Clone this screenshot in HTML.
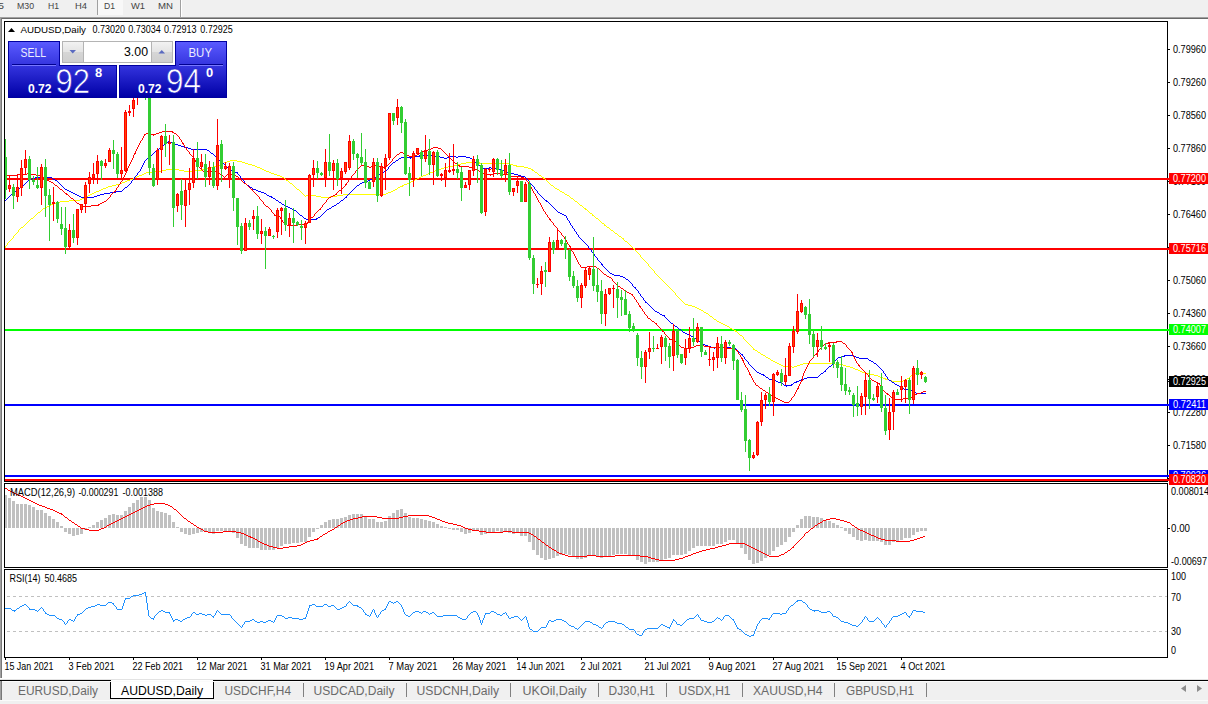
<!DOCTYPE html><html><head><meta charset="utf-8"><title>AUDUSD,Daily</title><style>
html,body{margin:0;padding:0;background:#fff;}body{width:1208px;height:704px;overflow:hidden;position:relative;font-family:"Liberation Sans",sans-serif;}
svg{position:absolute;left:0;top:0;display:block}text{font-family:"Liberation Sans",sans-serif;}
.ax{font-size:10.4px;fill:#000}.lb{font-size:10.4px;fill:#fff}.tb{font-size:12.5px;fill:#6a6a6a}.tf{font-size:9.7px;fill:#444}
</style></head><body>
<svg width="1208" height="704" viewBox="0 0 1208 704">
<defs><linearGradient id="bg" gradientUnits="userSpaceOnUse" x1="0" y1="42" x2="0" y2="97"><stop offset="0" stop-color="#5a5aff"/><stop offset="0.45" stop-color="#3232dc"/><stop offset="1" stop-color="#0000a6"/></linearGradient>
<linearGradient id="sp" x1="0" y1="0" x2="0" y2="1"><stop offset="0" stop-color="#f2f2f2"/><stop offset="0.5" stop-color="#e4e4e4"/><stop offset="0.5" stop-color="#d6d6d6"/><stop offset="1" stop-color="#cfcfcf"/></linearGradient>
<clipPath id="cm"><rect x="5" y="22" width="1162" height="459"/></clipPath></defs>
<g shape-rendering="crispEdges">
<rect x="0" y="0" width="1208" height="17" fill="#f0f0f0"/>
<rect x="98" y="0" width="25" height="15" fill="#f8f8f8"/>
<rect x="97" y="0" width="1" height="15" fill="#a0a0a0"/>
<rect x="180" y="0" width="1" height="17" fill="#a0a0a0"/><rect x="181" y="0" width="1" height="17" fill="#fff"/>
<rect x="0" y="17" width="1208" height="1" fill="#a0a0a0"/><rect x="0" y="18" width="1208" height="1" fill="#696969"/>
<rect x="0" y="17" width="1" height="661" fill="#a0a0a0"/><rect x="1" y="18" width="1" height="660" fill="#787878"/>
<rect x="4" y="21" width="1164" height="1" fill="#000"/>
<rect x="4" y="21" width="1" height="637" fill="#000"/>
<rect x="1167" y="21" width="1" height="637" fill="#000"/>
<rect x="4" y="481" width="1164" height="1" fill="#000"/><rect x="4" y="482" width="1164" height="1" fill="#fff"/><rect x="4" y="483" width="1164" height="1" fill="#000"/>
<rect x="4" y="567" width="1164" height="1" fill="#000"/><rect x="4" y="568" width="1164" height="1" fill="#fff"/><rect x="4" y="569" width="1164" height="1" fill="#000"/>
<rect x="4" y="657" width="1164" height="1" fill="#000"/>
</g>
<g shape-rendering="crispEdges">
<rect x="5" y="178" width="1164" height="2" fill="#ff0000"/>
<rect x="5" y="248" width="1164" height="2" fill="#ff0000"/>
<rect x="5" y="329" width="1164" height="2" fill="#00ff00"/>
<rect x="5" y="404" width="1164" height="2" fill="#0000ff"/>
<rect x="5" y="475" width="1164" height="2" fill="#0000ff"/>
<rect x="5" y="479" width="1164" height="2" fill="#ff0000"/>
</g>
<g shape-rendering="crispEdges" clip-path="url(#cm)" stroke-linejoin="round">
<path d="M230 160h7v1h-7zM227 161h3v1h-3zM237 161h5v1h-5zM224 162h3v1h-3zM242 162h3v1h-3zM466 162h14v1h-14zM222 163h2v1h-2zM245 163h3v1h-3zM461 163h5v1h-5zM479 163h31v1h-31zM220 164h2v1h-2zM248 164h4v1h-4zM457 164h4v1h-4zM510 164h3v1h-3zM217 165h3v1h-3zM252 165h3v1h-3zM453 165h4v1h-4zM513 165h4v1h-4zM214 166h3v1h-3zM255 166h2v1h-2zM448 166h6v1h-6zM516 166h8v1h-8zM210 167h4v1h-4zM257 167h3v1h-3zM444 167h4v1h-4zM524 167h4v1h-4zM206 168h4v1h-4zM260 168h2v1h-2zM441 168h3v1h-3zM528 168h3v1h-3zM166 169h13v1h-13zM202 169h4v1h-4zM262 169h2v1h-2zM438 169h3v1h-3zM531 169h2v1h-2zM162 170h4v1h-4zM179 170h5v1h-5zM194 170h8v1h-8zM264 170h2v1h-2zM435 170h3v1h-3zM532 170h2v1h-2zM155 171h7v1h-7zM184 171h10v1h-10zM266 171h3v1h-3zM433 171h2v1h-2zM534 171h1v1h-1zM146 172h9v1h-9zM269 172h2v1h-2zM430 172h3v1h-3zM535 172h2v1h-2zM144 173h2v1h-2zM271 173h3v1h-3zM428 173h2v1h-2zM537 173h1v1h-1zM142 174h2v1h-2zM274 174h3v1h-3zM426 174h2v1h-2zM538 174h1v1h-1zM139 175h3v1h-3zM277 175h3v1h-3zM423 175h3v1h-3zM539 175h2v1h-2zM137 176h2v1h-2zM280 176h2v1h-2zM421 176h2v1h-2zM541 176h1v1h-1zM135 177h2v1h-2zM282 177h2v1h-2zM419 177h2v1h-2zM542 177h2v1h-2zM133 178h2v1h-2zM284 178h1v1h-1zM417 178h2v1h-2zM543 178h2v1h-2zM130 179h3v1h-3zM285 179h1v1h-1zM415 179h2v1h-2zM545 179h1v1h-1zM127 180h3v1h-3zM286 180h2v1h-2zM413 180h2v1h-2zM546 180h1v1h-1zM125 181h2v1h-2zM288 181h1v1h-1zM411 181h2v1h-2zM547 181h1v1h-1zM122 182h3v1h-3zM289 182h1v1h-1zM409 182h2v1h-2zM548 182h1v1h-1zM120 183h2v1h-2zM290 183h2v1h-2zM407 183h2v1h-2zM549 183h1v1h-1zM116 184h4v1h-4zM292 184h1v1h-1zM404 184h3v1h-3zM550 184h1v1h-1zM112 185h4v1h-4zM293 185h1v1h-1zM402 185h2v1h-2zM551 185h2v1h-2zM108 186h4v1h-4zM294 186h1v1h-1zM400 186h3v1h-3zM553 186h1v1h-1zM106 187h2v1h-2zM295 187h1v1h-1zM398 187h2v1h-2zM554 187h1v1h-1zM103 188h3v1h-3zM296 188h1v1h-1zM397 188h1v1h-1zM555 188h2v1h-2zM101 189h2v1h-2zM297 189h2v1h-2zM395 189h2v1h-2zM557 189h2v1h-2zM99 190h2v1h-2zM299 190h1v1h-1zM393 190h2v1h-2zM559 190h1v1h-1zM96 191h3v1h-3zM300 191h1v1h-1zM391 191h2v1h-2zM560 191h2v1h-2zM94 192h2v1h-2zM301 192h1v1h-1zM388 192h3v1h-3zM562 192h2v1h-2zM92 193h2v1h-2zM302 193h1v1h-1zM386 193h2v1h-2zM564 193h1v1h-1zM90 194h2v1h-2zM303 194h1v1h-1zM343 194h43v1h-43zM565 194h2v1h-2zM88 195h2v1h-2zM304 195h1v1h-1zM306 195h10v1h-10zM337 195h6v1h-6zM567 195h2v1h-2zM86 196h2v1h-2zM305 196h1v1h-1zM316 196h5v1h-5zM330 196h7v1h-7zM569 196h1v1h-1zM84 197h2v1h-2zM321 197h9v1h-9zM570 197h1v1h-1zM82 198h2v1h-2zM571 198h2v1h-2zM80 199h2v1h-2zM573 199h1v1h-1zM69 200h11v1h-11zM574 200h1v1h-1zM60 201h9v1h-9zM575 201h2v1h-2zM56 202h4v1h-4zM577 202h1v1h-1zM54 203h2v1h-2zM578 203h1v1h-1zM51 204h3v1h-3zM579 204h1v1h-1zM49 205h2v1h-2zM580 205h2v1h-2zM47 206h2v1h-2zM582 206h1v1h-1zM45 207h2v1h-2zM583 207h1v1h-1zM43 208h2v1h-2zM584 208h2v1h-2zM42 209h1v1h-1zM585 209h2v1h-2zM41 210h1v1h-1zM587 210h1v1h-1zM40 211h1v1h-1zM588 211h1v1h-1zM38 212h2v1h-2zM589 212h1v1h-1zM37 213h1v1h-1zM590 213h2v1h-2zM36 214h1v1h-1zM592 214h1v1h-1zM35 215h1v1h-1zM592 215h2v1h-2zM34 216h1v1h-1zM594 216h1v1h-1zM33 217h1v1h-1zM595 217h1v1h-1zM31 218h2v1h-2zM596 218h2v1h-2zM30 219h1v1h-1zM598 219h1v1h-1zM29 220h1v1h-1zM599 220h1v1h-1zM28 221h1v1h-1zM600 221h1v1h-1zM27 222h1v1h-1zM601 222h1v1h-1zM26 223h1v1h-1zM602 223h2v1h-2zM25 224h1v1h-1zM604 224h1v1h-1zM24 225h1v1h-1zM604 225h2v1h-2zM23 226h1v1h-1zM606 226h1v1h-1zM21 227h2v1h-2zM607 227h2v1h-2zM20 228h1v1h-1zM609 228h1v1h-1zM19 229h1v1h-1zM610 229h1v1h-1zM18 230h1v1h-1zM611 230h2v1h-2zM18 231h1v1h-1zM613 231h1v1h-1zM17 232h1v1h-1zM614 232h1v1h-1zM16 233h1v1h-1zM615 233h2v1h-2zM15 234h1v1h-1zM617 234h1v1h-1zM14 235h1v1h-1zM618 235h1v1h-1zM13 236h1v1h-1zM619 236h2v1h-2zM13 237h1v1h-1zM621 237h1v1h-1zM12 238h1v1h-1zM622 238h2v1h-2zM11 239h1v1h-1zM623 239h1v1h-1zM10 240h1v1h-1zM624 240h1v1h-1zM9 241h1v1h-1zM625 241h2v1h-2zM8 242h1v1h-1zM627 242h1v1h-1zM7 243h1v1h-1zM628 243h1v1h-1zM7 244h1v1h-1zM629 244h1v1h-1zM6 245h1v1h-1zM630 245h1v1h-1zM5 246h1v1h-1zM631 246h1v1h-1zM5 247h1v1h-1zM632 247h1v1h-1zM633 248h2v1h-2zM634 249h1v1h-1zM635 250h1v1h-1zM636 251h1v1h-1zM637 252h1v1h-1zM638 253h1v1h-1zM639 254h1v1h-1zM640 255h1v1h-1zM640 256h1v1h-1zM641 257h1v1h-1zM642 258h1v1h-1zM643 259h1v1h-1zM644 260h1v1h-1zM645 261h1v1h-1zM646 262h1v1h-1zM647 263h1v1h-1zM648 264h1v1h-1zM648 265h1v1h-1zM649 266h1v1h-1zM650 267h1v1h-1zM651 268h1v1h-1zM652 269h1v1h-1zM653 270h1v1h-1zM654 271h1v1h-1zM654 272h1v1h-1zM655 273h1v1h-1zM656 274h1v1h-1zM657 275h1v1h-1zM658 276h1v1h-1zM659 277h1v1h-1zM660 278h1v1h-1zM661 279h1v1h-1zM662 280h1v1h-1zM663 281h1v1h-1zM664 282h1v1h-1zM665 283h1v1h-1zM666 284h1v1h-1zM667 285h1v1h-1zM668 286h1v1h-1zM669 287h1v1h-1zM670 288h1v1h-1zM671 289h1v1h-1zM672 290h1v1h-1zM673 291h1v1h-1zM674 292h1v1h-1zM675 293h1v1h-1zM675 294h1v1h-1zM676 295h1v1h-1zM677 296h1v1h-1zM678 297h1v1h-1zM679 298h1v1h-1zM680 299h1v1h-1zM681 300h1v1h-1zM682 301h1v1h-1zM683 302h1v1h-1zM684 303h1v1h-1zM685 304h3v1h-3zM688 305h4v1h-4zM692 306h3v1h-3zM695 307h2v1h-2zM697 308h2v1h-2zM699 309h2v1h-2zM701 310h2v1h-2zM703 311h1v1h-1zM704 312h2v1h-2zM706 313h2v1h-2zM708 314h1v1h-1zM709 315h1v1h-1zM710 316h2v1h-2zM712 317h1v1h-1zM713 318h1v1h-1zM714 319h2v1h-2zM716 320h1v1h-1zM717 321h2v1h-2zM719 322h2v1h-2zM721 323h2v1h-2zM723 324h2v1h-2zM725 325h2v1h-2zM727 326h2v1h-2zM729 327h1v1h-1zM730 328h2v1h-2zM732 329h2v1h-2zM734 330h2v1h-2zM735 331h2v1h-2zM737 332h1v1h-1zM738 333h1v1h-1zM739 334h1v1h-1zM740 335h2v1h-2zM742 336h1v1h-1zM743 337h1v1h-1zM743 338h1v1h-1zM744 339h1v1h-1zM745 340h1v1h-1zM746 341h1v1h-1zM747 342h1v1h-1zM748 343h1v1h-1zM749 344h1v1h-1zM750 345h1v1h-1zM751 346h1v1h-1zM752 347h1v1h-1zM753 348h1v1h-1zM753 349h2v1h-2zM755 350h2v1h-2zM757 351h1v1h-1zM758 352h2v1h-2zM760 353h1v1h-1zM761 354h2v1h-2zM763 355h2v1h-2zM765 356h1v1h-1zM766 357h2v1h-2zM768 358h2v1h-2zM770 359h1v1h-1zM771 360h2v1h-2zM773 361h2v1h-2zM775 362h2v1h-2zM777 363h2v1h-2zM803 363h32v1h-32zM779 364h2v1h-2zM800 364h3v1h-3zM835 364h8v1h-8zM781 365h2v1h-2zM797 365h3v1h-3zM843 365h3v1h-3zM783 366h9v1h-9zM794 366h3v1h-3zM846 366h4v1h-4zM792 367h2v1h-2zM850 367h3v1h-3zM853 368h2v1h-2zM855 369h3v1h-3zM858 370h2v1h-2zM860 371h2v1h-2zM862 372h4v1h-4zM866 373h4v1h-4zM913 373h13v1h-13zM870 374h4v1h-4zM912 374h1v1h-1zM874 375h4v1h-4zM911 375h1v1h-1zM878 376h2v1h-2zM910 376h1v1h-1zM880 377h3v1h-3zM909 377h1v1h-1zM883 378h3v1h-3zM907 378h2v1h-2zM885 379h4v1h-4zM905 379h2v1h-2zM889 380h3v1h-3zM903 380h2v1h-2zM892 381h11v1h-11z" fill="#ffff00" />
<path d="M168 141h1v1h-1zM167 142h1v1h-1zM169 142h3v1h-3zM165 143h2v1h-2zM172 143h3v1h-3zM164 144h1v1h-1zM175 144h3v1h-3zM162 145h2v1h-2zM178 145h3v1h-3zM161 146h1v1h-1zM181 146h3v1h-3zM160 147h1v1h-1zM184 147h4v1h-4zM159 148h1v1h-1zM188 148h3v1h-3zM157 149h2v1h-2zM191 149h16v1h-16zM156 150h1v1h-1zM207 150h2v1h-2zM155 151h1v1h-1zM209 151h1v1h-1zM154 152h1v1h-1zM210 152h1v1h-1zM153 153h1v1h-1zM211 153h2v1h-2zM152 154h1v1h-1zM213 154h1v1h-1zM150 155h2v1h-2zM214 155h1v1h-1zM419 155h15v1h-15zM149 156h1v1h-1zM215 156h1v1h-1zM415 156h5v1h-5zM434 156h6v1h-6zM449 156h7v1h-7zM458 156h8v1h-8zM148 157h1v1h-1zM216 157h1v1h-1zM401 157h14v1h-14zM440 157h4v1h-4zM447 157h2v1h-2zM456 157h2v1h-2zM466 157h4v1h-4zM147 158h1v1h-1zM217 158h1v1h-1zM399 158h2v1h-2zM410 158h1v1h-1zM444 158h3v1h-3zM470 158h2v1h-2zM146 159h1v1h-1zM218 159h1v1h-1zM398 159h1v1h-1zM472 159h1v1h-1zM145 160h1v1h-1zM219 160h2v1h-2zM396 160h2v1h-2zM473 160h1v1h-1zM144 161h1v1h-1zM221 161h1v1h-1zM395 161h1v1h-1zM474 161h1v1h-1zM144 162h1v1h-1zM222 162h1v1h-1zM393 162h2v1h-2zM475 162h1v1h-1zM143 163h1v1h-1zM223 163h1v1h-1zM392 163h1v1h-1zM476 163h2v1h-2zM143 164h1v1h-1zM224 164h1v1h-1zM391 164h1v1h-1zM478 164h1v1h-1zM142 165h1v1h-1zM225 165h1v1h-1zM390 165h1v1h-1zM479 165h1v1h-1zM142 166h1v1h-1zM226 166h1v1h-1zM389 166h1v1h-1zM480 166h1v1h-1zM141 167h1v1h-1zM227 167h1v1h-1zM388 167h1v1h-1zM481 167h2v1h-2zM489 167h2v1h-2zM141 168h1v1h-1zM228 168h2v1h-2zM388 168h1v1h-1zM483 168h6v1h-6zM491 168h5v1h-5zM140 169h1v1h-1zM229 169h2v1h-2zM387 169h1v1h-1zM496 169h5v1h-5zM140 170h1v1h-1zM231 170h2v1h-2zM385 170h2v1h-2zM501 170h3v1h-3zM139 171h1v1h-1zM233 171h2v1h-2zM384 171h1v1h-1zM504 171h3v1h-3zM138 172h1v1h-1zM235 172h3v1h-3zM382 172h2v1h-2zM507 172h3v1h-3zM137 173h1v1h-1zM237 173h1v1h-1zM380 173h2v1h-2zM510 173h4v1h-4zM137 174h1v1h-1zM238 174h1v1h-1zM379 174h1v1h-1zM514 174h4v1h-4zM136 175h1v1h-1zM239 175h1v1h-1zM377 175h2v1h-2zM518 175h3v1h-3zM135 176h1v1h-1zM240 176h1v1h-1zM376 176h1v1h-1zM521 176h4v1h-4zM35 177h17v1h-17zM134 177h1v1h-1zM240 177h1v1h-1zM374 177h2v1h-2zM525 177h1v1h-1zM32 178h3v1h-3zM52 178h1v1h-1zM134 178h1v1h-1zM241 178h1v1h-1zM372 178h2v1h-2zM526 178h1v1h-1zM30 179h2v1h-2zM53 179h2v1h-2zM133 179h1v1h-1zM242 179h1v1h-1zM370 179h2v1h-2zM527 179h1v1h-1zM28 180h2v1h-2zM55 180h2v1h-2zM132 180h1v1h-1zM243 180h1v1h-1zM368 180h2v1h-2zM528 180h1v1h-1zM27 181h1v1h-1zM57 181h1v1h-1zM131 181h1v1h-1zM244 181h1v1h-1zM365 181h3v1h-3zM529 181h1v1h-1zM26 182h1v1h-1zM58 182h1v1h-1zM131 182h1v1h-1zM244 182h1v1h-1zM362 182h3v1h-3zM529 182h1v1h-1zM25 183h1v1h-1zM59 183h1v1h-1zM130 183h1v1h-1zM245 183h1v1h-1zM360 183h2v1h-2zM530 183h1v1h-1zM24 184h1v1h-1zM60 184h1v1h-1zM129 184h1v1h-1zM246 184h1v1h-1zM359 184h1v1h-1zM531 184h1v1h-1zM23 185h1v1h-1zM61 185h1v1h-1zM128 185h1v1h-1zM247 185h2v1h-2zM357 185h2v1h-2zM532 185h1v1h-1zM22 186h1v1h-1zM62 186h1v1h-1zM127 186h1v1h-1zM249 186h1v1h-1zM356 186h1v1h-1zM533 186h1v1h-1zM20 187h2v1h-2zM63 187h1v1h-1zM125 187h2v1h-2zM250 187h2v1h-2zM355 187h1v1h-1zM534 187h1v1h-1zM19 188h1v1h-1zM64 188h1v1h-1zM124 188h1v1h-1zM252 188h1v1h-1zM354 188h1v1h-1zM534 188h1v1h-1zM18 189h1v1h-1zM65 189h2v1h-2zM123 189h1v1h-1zM253 189h3v1h-3zM353 189h1v1h-1zM535 189h1v1h-1zM16 190h2v1h-2zM67 190h2v1h-2zM122 190h1v1h-1zM256 190h2v1h-2zM352 190h1v1h-1zM536 190h1v1h-1zM15 191h1v1h-1zM69 191h2v1h-2zM116 191h6v1h-6zM258 191h3v1h-3zM351 191h1v1h-1zM537 191h1v1h-1zM14 192h1v1h-1zM71 192h2v1h-2zM110 192h6v1h-6zM261 192h3v1h-3zM350 192h1v1h-1zM537 192h1v1h-1zM13 193h1v1h-1zM73 193h2v1h-2zM104 193h6v1h-6zM264 193h2v1h-2zM349 193h1v1h-1zM538 193h1v1h-1zM11 194h2v1h-2zM75 194h2v1h-2zM100 194h4v1h-4zM266 194h1v1h-1zM348 194h1v1h-1zM539 194h1v1h-1zM10 195h1v1h-1zM77 195h2v1h-2zM97 195h3v1h-3zM267 195h2v1h-2zM347 195h1v1h-1zM540 195h1v1h-1zM9 196h1v1h-1zM79 196h2v1h-2zM94 196h3v1h-3zM269 196h3v1h-3zM346 196h1v1h-1zM541 196h1v1h-1zM8 197h1v1h-1zM81 197h13v1h-13zM271 197h2v1h-2zM345 197h2v1h-2zM542 197h1v1h-1zM7 198h1v1h-1zM273 198h2v1h-2zM344 198h1v1h-1zM543 198h1v1h-1zM6 199h1v1h-1zM275 199h1v1h-1zM343 199h1v1h-1zM544 199h1v1h-1zM5 200h1v1h-1zM276 200h2v1h-2zM341 200h2v1h-2zM545 200h2v1h-2zM278 201h1v1h-1zM340 201h1v1h-1zM546 201h2v1h-2zM279 202h2v1h-2zM339 202h1v1h-1zM548 202h1v1h-1zM281 203h1v1h-1zM337 203h2v1h-2zM549 203h1v1h-1zM282 204h2v1h-2zM336 204h1v1h-1zM550 204h1v1h-1zM284 205h2v1h-2zM334 205h2v1h-2zM551 205h1v1h-1zM286 206h2v1h-2zM332 206h2v1h-2zM552 206h1v1h-1zM288 207h2v1h-2zM331 207h1v1h-1zM553 207h1v1h-1zM290 208h2v1h-2zM329 208h2v1h-2zM554 208h1v1h-1zM292 209h2v1h-2zM327 209h2v1h-2zM555 209h1v1h-1zM294 210h2v1h-2zM326 210h1v1h-1zM556 210h1v1h-1zM296 211h1v1h-1zM325 211h1v1h-1zM557 211h1v1h-1zM297 212h1v1h-1zM324 212h1v1h-1zM558 212h2v1h-2zM298 213h1v1h-1zM323 213h1v1h-1zM560 213h2v1h-2zM299 214h1v1h-1zM322 214h1v1h-1zM562 214h2v1h-2zM300 215h2v1h-2zM321 215h1v1h-1zM564 215h2v1h-2zM302 216h1v1h-1zM320 216h1v1h-1zM566 216h1v1h-1zM303 217h1v1h-1zM318 217h2v1h-2zM566 217h1v1h-1zM304 218h2v1h-2zM316 218h2v1h-2zM567 218h1v1h-1zM306 219h11v1h-11zM567 219h1v1h-1zM568 220h1v1h-1zM569 221h1v1h-1zM569 222h1v1h-1zM570 223h1v1h-1zM570 224h1v1h-1zM571 225h1v1h-1zM572 226h1v1h-1zM572 227h1v1h-1zM573 228h1v1h-1zM574 229h1v1h-1zM574 230h1v1h-1zM575 231h1v1h-1zM576 232h1v1h-1zM576 233h1v1h-1zM577 234h1v1h-1zM578 235h1v1h-1zM578 236h1v1h-1zM579 237h1v1h-1zM580 238h1v1h-1zM581 239h1v1h-1zM582 240h1v1h-1zM583 241h1v1h-1zM584 242h1v1h-1zM585 243h1v1h-1zM586 244h1v1h-1zM587 245h1v1h-1zM588 246h1v1h-1zM588 247h1v1h-1zM589 248h1v1h-1zM590 249h1v1h-1zM591 250h1v1h-1zM591 251h1v1h-1zM592 252h1v1h-1zM593 253h1v1h-1zM593 254h2v1h-2zM594 255h1v1h-1zM595 256h1v1h-1zM596 257h1v1h-1zM597 258h1v1h-1zM597 259h1v1h-1zM598 260h1v1h-1zM599 261h1v1h-1zM600 262h1v1h-1zM601 263h1v1h-1zM601 264h2v1h-2zM602 265h1v1h-1zM603 266h1v1h-1zM604 267h1v1h-1zM605 268h1v1h-1zM606 269h1v1h-1zM607 270h1v1h-1zM608 271h1v1h-1zM609 272h1v1h-1zM610 273h2v1h-2zM612 274h2v1h-2zM614 275h6v1h-6zM620 276h3v1h-3zM623 277h2v1h-2zM625 278h1v1h-1zM626 279h2v1h-2zM628 280h1v1h-1zM629 281h1v1h-1zM630 282h1v1h-1zM631 283h1v1h-1zM632 284h1v1h-1zM632 285h1v1h-1zM633 286h1v1h-1zM634 287h2v1h-2zM635 288h1v1h-1zM636 289h1v1h-1zM637 290h1v1h-1zM638 291h1v1h-1zM638 292h1v1h-1zM639 293h1v1h-1zM640 294h1v1h-1zM640 295h1v1h-1zM641 296h1v1h-1zM642 297h1v1h-1zM643 298h1v1h-1zM643 299h1v1h-1zM644 300h1v1h-1zM645 301h1v1h-1zM645 302h2v1h-2zM647 303h1v1h-1zM648 304h1v1h-1zM649 305h1v1h-1zM650 306h1v1h-1zM651 307h1v1h-1zM652 308h1v1h-1zM653 309h1v1h-1zM654 310h1v1h-1zM655 311h2v1h-2zM657 312h2v1h-2zM659 313h1v1h-1zM660 314h2v1h-2zM662 315h3v1h-3zM664 316h1v1h-1zM665 317h1v1h-1zM666 318h1v1h-1zM667 319h1v1h-1zM668 320h1v1h-1zM669 321h1v1h-1zM670 322h1v1h-1zM671 323h2v1h-2zM673 324h1v1h-1zM674 325h1v1h-1zM675 326h2v1h-2zM677 327h1v1h-1zM678 328h1v1h-1zM679 329h2v1h-2zM681 330h1v1h-1zM682 331h1v1h-1zM683 332h2v1h-2zM685 333h2v1h-2zM687 334h2v1h-2zM689 335h2v1h-2zM691 336h2v1h-2zM693 337h1v1h-1zM694 338h2v1h-2zM696 339h1v1h-1zM697 340h2v1h-2zM698 341h2v1h-2zM700 342h2v1h-2zM702 343h1v1h-1zM703 344h2v1h-2zM705 345h3v1h-3zM708 346h3v1h-3zM711 347h3v1h-3zM715 347h16v1h-16zM714 348h1v1h-1zM731 348h5v1h-5zM735 349h2v1h-2zM737 350h1v1h-1zM738 351h1v1h-1zM739 352h1v1h-1zM740 353h1v1h-1zM741 354h2v1h-2zM742 355h1v1h-1zM844 355h9v1h-9zM743 356h1v1h-1zM841 356h4v1h-4zM853 356h3v1h-3zM744 357h1v1h-1zM838 357h3v1h-3zM856 357h3v1h-3zM744 358h1v1h-1zM837 358h1v1h-1zM859 358h9v1h-9zM745 359h1v1h-1zM836 359h1v1h-1zM868 359h1v1h-1zM746 360h1v1h-1zM835 360h1v1h-1zM869 360h2v1h-2zM747 361h1v1h-1zM834 361h1v1h-1zM871 361h2v1h-2zM748 362h1v1h-1zM833 362h1v1h-1zM873 362h1v1h-1zM748 363h1v1h-1zM833 363h1v1h-1zM874 363h2v1h-2zM749 364h1v1h-1zM832 364h1v1h-1zM876 364h1v1h-1zM750 365h1v1h-1zM831 365h1v1h-1zM877 365h1v1h-1zM751 366h1v1h-1zM829 366h2v1h-2zM878 366h1v1h-1zM752 367h1v1h-1zM828 367h1v1h-1zM879 367h1v1h-1zM753 368h1v1h-1zM827 368h1v1h-1zM880 368h1v1h-1zM754 369h1v1h-1zM826 369h1v1h-1zM881 369h1v1h-1zM755 370h1v1h-1zM825 370h1v1h-1zM882 370h1v1h-1zM756 371h1v1h-1zM824 371h2v1h-2zM883 371h1v1h-1zM757 372h2v1h-2zM823 372h1v1h-1zM883 372h1v1h-1zM759 373h2v1h-2zM821 373h2v1h-2zM884 373h1v1h-1zM761 374h3v1h-3zM820 374h1v1h-1zM885 374h1v1h-1zM763 375h2v1h-2zM819 375h1v1h-1zM885 375h1v1h-1zM765 376h1v1h-1zM818 376h1v1h-1zM886 376h1v1h-1zM766 377h2v1h-2zM807 377h11v1h-11zM887 377h1v1h-1zM768 378h1v1h-1zM804 378h3v1h-3zM887 378h1v1h-1zM769 379h3v1h-3zM801 379h3v1h-3zM888 379h1v1h-1zM772 380h4v1h-4zM799 380h2v1h-2zM889 380h2v1h-2zM776 381h2v1h-2zM796 381h3v1h-3zM891 381h1v1h-1zM778 382h3v1h-3zM794 382h3v1h-3zM892 382h2v1h-2zM781 383h2v1h-2zM793 383h1v1h-1zM894 383h1v1h-1zM783 384h1v1h-1zM791 384h2v1h-2zM895 384h2v1h-2zM784 385h8v1h-8zM897 385h2v1h-2zM786 386h1v1h-1zM899 386h2v1h-2zM901 387h1v1h-1zM902 388h2v1h-2zM904 389h6v1h-6zM910 390h2v1h-2zM912 391h2v1h-2zM914 392h2v1h-2zM916 393h10v1h-10z" fill="#0000ff" />
<path d="M162 131h11v1h-11zM159 132h3v1h-3zM172 132h2v1h-2zM146 133h5v1h-5zM156 133h3v1h-3zM174 133h2v1h-2zM144 134h2v1h-2zM151 134h5v1h-5zM176 134h1v1h-1zM144 135h1v1h-1zM153 135h1v1h-1zM177 135h1v1h-1zM143 136h1v1h-1zM178 136h1v1h-1zM143 137h1v1h-1zM179 137h1v1h-1zM142 138h1v1h-1zM179 138h1v1h-1zM142 139h1v1h-1zM180 139h1v1h-1zM141 140h1v1h-1zM181 140h1v1h-1zM140 141h1v1h-1zM181 141h1v1h-1zM140 142h1v1h-1zM182 142h1v1h-1zM139 143h1v1h-1zM182 143h2v1h-2zM139 144h1v1h-1zM183 144h1v1h-1zM138 145h1v1h-1zM184 145h1v1h-1zM138 146h1v1h-1zM184 146h1v1h-1zM137 147h1v1h-1zM185 147h1v1h-1zM433 147h5v1h-5zM137 148h1v1h-1zM186 148h1v1h-1zM431 148h2v1h-2zM438 148h3v1h-3zM136 149h1v1h-1zM186 149h1v1h-1zM428 149h3v1h-3zM441 149h1v1h-1zM136 150h1v1h-1zM187 150h1v1h-1zM424 150h4v1h-4zM442 150h1v1h-1zM135 151h1v1h-1zM188 151h1v1h-1zM422 151h2v1h-2zM443 151h1v1h-1zM135 152h1v1h-1zM189 152h1v1h-1zM400 152h3v1h-3zM420 152h2v1h-2zM444 152h1v1h-1zM134 153h2v1h-2zM189 153h1v1h-1zM399 153h1v1h-1zM403 153h2v1h-2zM419 153h1v1h-1zM445 153h1v1h-1zM134 154h1v1h-1zM190 154h1v1h-1zM397 154h2v1h-2zM405 154h1v1h-1zM417 154h2v1h-2zM446 154h1v1h-1zM133 155h1v1h-1zM191 155h1v1h-1zM396 155h1v1h-1zM406 155h3v1h-3zM414 155h3v1h-3zM447 155h1v1h-1zM133 156h1v1h-1zM192 156h1v1h-1zM395 156h1v1h-1zM409 156h5v1h-5zM448 156h1v1h-1zM133 157h1v1h-1zM193 157h1v1h-1zM394 157h1v1h-1zM449 157h1v1h-1zM132 158h1v1h-1zM193 158h2v1h-2zM393 158h1v1h-1zM450 158h1v1h-1zM132 159h1v1h-1zM194 159h1v1h-1zM392 159h1v1h-1zM451 159h1v1h-1zM131 160h1v1h-1zM195 160h1v1h-1zM392 160h1v1h-1zM452 160h1v1h-1zM131 161h1v1h-1zM195 161h1v1h-1zM391 161h1v1h-1zM453 161h1v1h-1zM130 162h1v1h-1zM196 162h1v1h-1zM390 162h1v1h-1zM454 162h1v1h-1zM130 163h1v1h-1zM197 163h1v1h-1zM389 163h1v1h-1zM455 163h2v1h-2zM129 164h1v1h-1zM197 164h1v1h-1zM388 164h1v1h-1zM457 164h1v1h-1zM129 165h1v1h-1zM198 165h1v1h-1zM361 165h6v1h-6zM374 165h5v1h-5zM387 165h1v1h-1zM458 165h2v1h-2zM128 166h1v1h-1zM198 166h1v1h-1zM360 166h1v1h-1zM367 166h2v1h-2zM371 166h3v1h-3zM379 166h3v1h-3zM386 166h1v1h-1zM459 166h10v1h-10zM128 167h1v1h-1zM199 167h1v1h-1zM359 167h1v1h-1zM369 167h2v1h-2zM382 167h4v1h-4zM469 167h3v1h-3zM127 168h1v1h-1zM200 168h1v1h-1zM358 168h1v1h-1zM384 168h1v1h-1zM472 168h2v1h-2zM127 169h1v1h-1zM201 169h1v1h-1zM357 169h1v1h-1zM474 169h3v1h-3zM126 170h2v1h-2zM202 170h1v1h-1zM356 170h1v1h-1zM477 170h2v1h-2zM126 171h1v1h-1zM203 171h14v1h-14zM355 171h1v1h-1zM479 171h2v1h-2zM126 172h1v1h-1zM217 172h1v1h-1zM355 172h1v1h-1zM481 172h1v1h-1zM27 173h4v1h-4zM125 173h1v1h-1zM218 173h2v1h-2zM228 173h2v1h-2zM354 173h1v1h-1zM482 173h2v1h-2zM494 173h8v1h-8zM17 174h10v1h-10zM31 174h5v1h-5zM125 174h1v1h-1zM220 174h1v1h-1zM227 174h1v1h-1zM230 174h5v1h-5zM353 174h1v1h-1zM484 174h10v1h-10zM502 174h6v1h-6zM5 175h13v1h-13zM36 175h4v1h-4zM124 175h1v1h-1zM221 175h2v1h-2zM226 175h1v1h-1zM235 175h1v1h-1zM352 175h1v1h-1zM490 175h1v1h-1zM508 175h3v1h-3zM40 176h2v1h-2zM124 176h1v1h-1zM223 176h1v1h-1zM225 176h1v1h-1zM236 176h2v1h-2zM351 176h1v1h-1zM511 176h10v1h-10zM42 177h2v1h-2zM123 177h1v1h-1zM224 177h1v1h-1zM238 177h1v1h-1zM351 177h1v1h-1zM521 177h3v1h-3zM44 178h2v1h-2zM123 178h1v1h-1zM239 178h1v1h-1zM350 178h1v1h-1zM524 178h2v1h-2zM46 179h1v1h-1zM122 179h2v1h-2zM240 179h1v1h-1zM349 179h1v1h-1zM526 179h1v1h-1zM47 180h2v1h-2zM122 180h1v1h-1zM241 180h1v1h-1zM348 180h1v1h-1zM526 180h1v1h-1zM49 181h2v1h-2zM121 181h1v1h-1zM242 181h1v1h-1zM348 181h1v1h-1zM527 181h1v1h-1zM51 182h2v1h-2zM120 182h1v1h-1zM243 182h1v1h-1zM347 182h1v1h-1zM528 182h1v1h-1zM53 183h1v1h-1zM120 183h1v1h-1zM244 183h2v1h-2zM346 183h1v1h-1zM528 183h1v1h-1zM54 184h1v1h-1zM119 184h1v1h-1zM246 184h1v1h-1zM345 184h2v1h-2zM529 184h1v1h-1zM55 185h2v1h-2zM118 185h1v1h-1zM247 185h1v1h-1zM345 185h1v1h-1zM529 185h1v1h-1zM57 186h1v1h-1zM118 186h1v1h-1zM248 186h1v1h-1zM344 186h1v1h-1zM530 186h1v1h-1zM58 187h1v1h-1zM117 187h1v1h-1zM249 187h1v1h-1zM343 187h1v1h-1zM531 187h1v1h-1zM59 188h1v1h-1zM116 188h1v1h-1zM250 188h1v1h-1zM342 188h1v1h-1zM531 188h1v1h-1zM60 189h2v1h-2zM116 189h1v1h-1zM251 189h2v1h-2zM341 189h1v1h-1zM532 189h1v1h-1zM62 190h1v1h-1zM115 190h1v1h-1zM252 190h1v1h-1zM339 190h2v1h-2zM532 190h1v1h-1zM63 191h1v1h-1zM114 191h2v1h-2zM253 191h1v1h-1zM338 191h1v1h-1zM533 191h1v1h-1zM64 192h1v1h-1zM113 192h1v1h-1zM254 192h1v1h-1zM337 192h1v1h-1zM533 192h1v1h-1zM65 193h2v1h-2zM112 193h1v1h-1zM255 193h1v1h-1zM336 193h1v1h-1zM534 193h1v1h-1zM66 194h2v1h-2zM111 194h1v1h-1zM256 194h1v1h-1zM335 194h2v1h-2zM535 194h1v1h-1zM68 195h1v1h-1zM110 195h1v1h-1zM257 195h1v1h-1zM333 195h2v1h-2zM535 195h1v1h-1zM69 196h1v1h-1zM110 196h1v1h-1zM258 196h1v1h-1zM331 196h2v1h-2zM536 196h1v1h-1zM70 197h1v1h-1zM109 197h1v1h-1zM259 197h1v1h-1zM329 197h2v1h-2zM536 197h1v1h-1zM71 198h2v1h-2zM108 198h1v1h-1zM259 198h1v1h-1zM328 198h1v1h-1zM537 198h1v1h-1zM73 199h1v1h-1zM107 199h1v1h-1zM260 199h1v1h-1zM327 199h1v1h-1zM537 199h1v1h-1zM74 200h1v1h-1zM106 200h1v1h-1zM261 200h1v1h-1zM326 200h1v1h-1zM538 200h1v1h-1zM75 201h1v1h-1zM104 201h2v1h-2zM262 201h1v1h-1zM326 201h1v1h-1zM538 201h1v1h-1zM76 202h1v1h-1zM102 202h2v1h-2zM263 202h1v1h-1zM325 202h1v1h-1zM539 202h1v1h-1zM77 203h2v1h-2zM100 203h2v1h-2zM263 203h1v1h-1zM324 203h1v1h-1zM540 203h1v1h-1zM79 204h1v1h-1zM98 204h2v1h-2zM264 204h1v1h-1zM323 204h1v1h-1zM540 204h1v1h-1zM80 205h3v1h-3zM91 205h8v1h-8zM265 205h1v1h-1zM322 205h1v1h-1zM541 205h1v1h-1zM83 206h8v1h-8zM266 206h2v1h-2zM322 206h1v1h-1zM541 206h1v1h-1zM268 207h1v1h-1zM321 207h1v1h-1zM542 207h1v1h-1zM269 208h1v1h-1zM320 208h1v1h-1zM542 208h1v1h-1zM270 209h1v1h-1zM319 209h2v1h-2zM543 209h1v1h-1zM271 210h1v1h-1zM318 210h1v1h-1zM543 210h1v1h-1zM271 211h1v1h-1zM317 211h1v1h-1zM544 211h1v1h-1zM272 212h1v1h-1zM316 212h1v1h-1zM545 212h1v1h-1zM273 213h1v1h-1zM315 213h1v1h-1zM545 213h1v1h-1zM274 214h1v1h-1zM314 214h1v1h-1zM546 214h1v1h-1zM274 215h5v1h-5zM314 215h1v1h-1zM547 215h1v1h-1zM279 216h1v1h-1zM313 216h1v1h-1zM547 216h1v1h-1zM280 217h1v1h-1zM311 217h2v1h-2zM548 217h1v1h-1zM280 218h1v1h-1zM310 218h1v1h-1zM549 218h1v1h-1zM281 219h1v1h-1zM309 219h1v1h-1zM549 219h2v1h-2zM282 220h1v1h-1zM309 220h1v1h-1zM550 220h1v1h-1zM282 221h1v1h-1zM308 221h1v1h-1zM551 221h1v1h-1zM283 222h1v1h-1zM307 222h1v1h-1zM552 222h1v1h-1zM284 223h1v1h-1zM307 223h1v1h-1zM553 223h1v1h-1zM285 224h2v1h-2zM297 224h10v1h-10zM553 224h1v1h-1zM287 225h10v1h-10zM554 225h1v1h-1zM289 226h1v1h-1zM555 226h1v1h-1zM556 227h1v1h-1zM557 228h1v1h-1zM557 229h1v1h-1zM558 230h1v1h-1zM559 231h1v1h-1zM560 232h1v1h-1zM561 233h1v1h-1zM561 234h1v1h-1zM562 235h1v1h-1zM563 236h1v1h-1zM564 237h1v1h-1zM564 238h2v1h-2zM565 239h1v1h-1zM566 240h1v1h-1zM566 241h1v1h-1zM567 242h1v1h-1zM567 243h1v1h-1zM568 244h1v1h-1zM569 245h1v1h-1zM569 246h2v1h-2zM570 247h1v1h-1zM570 248h1v1h-1zM571 249h1v1h-1zM571 250h1v1h-1zM572 251h1v1h-1zM573 252h1v1h-1zM573 253h1v1h-1zM574 254h1v1h-1zM574 255h1v1h-1zM575 256h1v1h-1zM575 257h1v1h-1zM576 258h1v1h-1zM576 259h1v1h-1zM577 260h1v1h-1zM577 261h1v1h-1zM578 262h1v1h-1zM578 263h1v1h-1zM579 264h1v1h-1zM580 265h1v1h-1zM580 266h1v1h-1zM587 266h9v1h-9zM581 267h6v1h-6zM596 267h1v1h-1zM597 268h2v1h-2zM599 269h1v1h-1zM600 270h1v1h-1zM601 271h1v1h-1zM602 272h1v1h-1zM603 273h1v1h-1zM604 274h2v1h-2zM606 275h1v1h-1zM607 276h2v1h-2zM609 277h2v1h-2zM611 278h1v1h-1zM612 279h1v1h-1zM612 280h1v1h-1zM613 281h1v1h-1zM614 282h1v1h-1zM615 283h1v1h-1zM616 284h1v1h-1zM617 285h1v1h-1zM618 286h2v1h-2zM620 287h1v1h-1zM621 288h2v1h-2zM623 289h1v1h-1zM624 290h2v1h-2zM626 291h1v1h-1zM627 292h2v1h-2zM629 293h2v1h-2zM631 294h2v1h-2zM632 295h1v1h-1zM633 296h1v1h-1zM634 297h1v1h-1zM634 298h1v1h-1zM635 299h1v1h-1zM636 300h1v1h-1zM636 301h1v1h-1zM637 302h1v1h-1zM638 303h1v1h-1zM638 304h1v1h-1zM639 305h1v1h-1zM639 306h2v1h-2zM640 307h1v1h-1zM641 308h1v1h-1zM642 309h1v1h-1zM642 310h1v1h-1zM643 311h1v1h-1zM644 312h1v1h-1zM644 313h1v1h-1zM645 314h1v1h-1zM646 315h1v1h-1zM647 316h1v1h-1zM647 317h1v1h-1zM648 318h2v1h-2zM650 319h1v1h-1zM651 320h1v1h-1zM652 321h2v1h-2zM654 322h1v1h-1zM655 323h2v1h-2zM656 324h1v1h-1zM657 325h1v1h-1zM658 326h1v1h-1zM659 327h1v1h-1zM660 328h1v1h-1zM661 329h1v1h-1zM662 330h1v1h-1zM662 331h2v1h-2zM664 332h1v1h-1zM664 333h1v1h-1zM665 334h1v1h-1zM666 335h1v1h-1zM667 336h1v1h-1zM668 337h1v1h-1zM669 338h1v1h-1zM669 339h3v1h-3zM672 340h2v1h-2zM674 341h3v1h-3zM836 341h6v1h-6zM676 342h1v1h-1zM828 342h9v1h-9zM842 342h1v1h-1zM677 343h1v1h-1zM826 343h3v1h-3zM843 343h2v1h-2zM678 344h1v1h-1zM824 344h2v1h-2zM845 344h1v1h-1zM679 345h1v1h-1zM696 345h8v1h-8zM823 345h1v1h-1zM846 345h1v1h-1zM680 346h1v1h-1zM694 346h2v1h-2zM704 346h6v1h-6zM822 346h1v1h-1zM846 346h1v1h-1zM681 347h3v1h-3zM691 347h3v1h-3zM710 347h17v1h-17zM821 347h1v1h-1zM847 347h1v1h-1zM684 348h7v1h-7zM727 348h6v1h-6zM820 348h1v1h-1zM848 348h1v1h-1zM686 349h1v1h-1zM733 349h3v1h-3zM819 349h1v1h-1zM849 349h1v1h-1zM736 350h2v1h-2zM818 350h1v1h-1zM850 350h1v1h-1zM737 351h1v1h-1zM818 351h1v1h-1zM851 351h1v1h-1zM738 352h1v1h-1zM817 352h1v1h-1zM851 352h2v1h-2zM738 353h1v1h-1zM816 353h1v1h-1zM852 353h1v1h-1zM739 354h1v1h-1zM815 354h2v1h-2zM852 354h1v1h-1zM740 355h1v1h-1zM814 355h1v1h-1zM853 355h1v1h-1zM740 356h1v1h-1zM813 356h1v1h-1zM853 356h1v1h-1zM741 357h1v1h-1zM813 357h1v1h-1zM854 357h1v1h-1zM741 358h2v1h-2zM812 358h1v1h-1zM854 358h1v1h-1zM742 359h1v1h-1zM811 359h1v1h-1zM855 359h1v1h-1zM742 360h2v1h-2zM810 360h1v1h-1zM855 360h1v1h-1zM743 361h1v1h-1zM809 361h1v1h-1zM856 361h1v1h-1zM743 362h1v1h-1zM809 362h1v1h-1zM856 362h1v1h-1zM744 363h1v1h-1zM808 363h1v1h-1zM857 363h1v1h-1zM744 364h1v1h-1zM808 364h1v1h-1zM858 364h1v1h-1zM745 365h1v1h-1zM807 365h1v1h-1zM858 365h2v1h-2zM745 366h1v1h-1zM807 366h1v1h-1zM859 366h1v1h-1zM746 367h1v1h-1zM806 367h1v1h-1zM860 367h1v1h-1zM747 368h1v1h-1zM806 368h1v1h-1zM861 368h1v1h-1zM747 369h1v1h-1zM805 369h1v1h-1zM862 369h1v1h-1zM748 370h1v1h-1zM805 370h1v1h-1zM863 370h1v1h-1zM748 371h1v1h-1zM804 371h1v1h-1zM864 371h1v1h-1zM749 372h1v1h-1zM804 372h1v1h-1zM865 372h1v1h-1zM749 373h1v1h-1zM803 373h1v1h-1zM865 373h2v1h-2zM749 374h2v1h-2zM803 374h1v1h-1zM867 374h1v1h-1zM750 375h1v1h-1zM803 375h1v1h-1zM868 375h1v1h-1zM751 376h1v1h-1zM802 376h1v1h-1zM868 376h1v1h-1zM751 377h1v1h-1zM802 377h1v1h-1zM869 377h1v1h-1zM752 378h1v1h-1zM802 378h1v1h-1zM870 378h1v1h-1zM752 379h1v1h-1zM802 379h1v1h-1zM871 379h1v1h-1zM753 380h1v1h-1zM801 380h2v1h-2zM872 380h2v1h-2zM753 381h1v1h-1zM801 381h1v1h-1zM874 381h2v1h-2zM754 382h1v1h-1zM800 382h1v1h-1zM876 382h2v1h-2zM755 383h1v1h-1zM800 383h1v1h-1zM878 383h2v1h-2zM755 384h1v1h-1zM799 384h1v1h-1zM879 384h1v1h-1zM756 385h2v1h-2zM799 385h1v1h-1zM880 385h1v1h-1zM758 386h1v1h-1zM798 386h1v1h-1zM880 386h1v1h-1zM759 387h1v1h-1zM798 387h1v1h-1zM881 387h1v1h-1zM760 388h2v1h-2zM797 388h2v1h-2zM882 388h1v1h-1zM762 389h1v1h-1zM797 389h1v1h-1zM882 389h1v1h-1zM763 390h2v1h-2zM796 390h1v1h-1zM883 390h1v1h-1zM765 391h1v1h-1zM796 391h1v1h-1zM884 391h1v1h-1zM923 391h3v1h-3zM766 392h2v1h-2zM795 392h1v1h-1zM885 392h1v1h-1zM921 392h2v1h-2zM768 393h1v1h-1zM795 393h1v1h-1zM886 393h2v1h-2zM917 393h4v1h-4zM769 394h2v1h-2zM794 394h1v1h-1zM887 394h2v1h-2zM915 394h2v1h-2zM771 395h1v1h-1zM794 395h1v1h-1zM889 395h1v1h-1zM914 395h1v1h-1zM772 396h2v1h-2zM793 396h1v1h-1zM890 396h1v1h-1zM913 396h1v1h-1zM774 397h2v1h-2zM792 397h1v1h-1zM891 397h2v1h-2zM911 397h2v1h-2zM776 398h2v1h-2zM791 398h1v1h-1zM893 398h2v1h-2zM903 398h8v1h-8zM778 399h2v1h-2zM791 399h1v1h-1zM895 399h8v1h-8zM780 400h2v1h-2zM790 400h1v1h-1zM782 401h2v1h-2zM789 401h1v1h-1zM784 402h5v1h-5z" fill="#ff0000" />
</g>
<g shape-rendering="crispEdges" clip-path="url(#cm)">
<rect x="5" y="139" width="1" height="60" fill="#32cd32"/><rect x="4" y="157" width="3" height="33" fill="#32cd32"/>
<rect x="9" y="176" width="1" height="16" fill="#ff0000"/><rect x="8" y="185" width="3" height="4" fill="#ff0000"/>
<rect x="9" y="186" width="1" height="2" fill="#ff4500"/>
<rect x="13" y="184" width="1" height="25" fill="#32cd32"/><rect x="12" y="187" width="3" height="9" fill="#32cd32"/>
<rect x="17" y="176" width="1" height="26" fill="#ff0000"/><rect x="16" y="187" width="3" height="10" fill="#ff0000"/>
<rect x="17" y="188" width="1" height="8" fill="#ff4500"/>
<rect x="21" y="160" width="1" height="36" fill="#ff0000"/><rect x="20" y="168" width="3" height="20" fill="#ff0000"/>
<rect x="21" y="169" width="1" height="18" fill="#ff4500"/>
<rect x="25" y="150" width="1" height="24" fill="#ff0000"/><rect x="24" y="159" width="3" height="9" fill="#ff0000"/>
<rect x="25" y="160" width="1" height="7" fill="#ff4500"/>
<rect x="29" y="156" width="1" height="33" fill="#32cd32"/><rect x="28" y="159" width="3" height="21" fill="#32cd32"/>
<rect x="33" y="176" width="1" height="9" fill="#32cd32"/><rect x="32" y="180" width="3" height="2" fill="#32cd32"/>
<rect x="37" y="167" width="1" height="22" fill="#32cd32"/><rect x="36" y="185" width="3" height="3" fill="#32cd32"/>
<rect x="41" y="164" width="1" height="41" fill="#ff0000"/><rect x="40" y="167" width="3" height="21" fill="#ff0000"/>
<rect x="41" y="168" width="1" height="19" fill="#ff4500"/>
<rect x="45" y="159" width="1" height="58" fill="#32cd32"/><rect x="44" y="167" width="3" height="29" fill="#32cd32"/>
<rect x="49" y="189" width="1" height="52" fill="#32cd32"/><rect x="48" y="195" width="3" height="10" fill="#32cd32"/>
<rect x="53" y="187" width="1" height="34" fill="#ff0000"/><rect x="52" y="202" width="3" height="2" fill="#ff0000"/>
<rect x="57" y="201" width="1" height="22" fill="#32cd32"/><rect x="56" y="202" width="3" height="17" fill="#32cd32"/>
<rect x="61" y="207" width="1" height="28" fill="#32cd32"/><rect x="60" y="224" width="3" height="5" fill="#32cd32"/>
<rect x="65" y="207" width="1" height="47" fill="#32cd32"/><rect x="64" y="228" width="3" height="19" fill="#32cd32"/>
<rect x="69" y="224" width="1" height="24" fill="#ff0000"/><rect x="68" y="230" width="3" height="17" fill="#ff0000"/>
<rect x="69" y="231" width="1" height="15" fill="#ff4500"/>
<rect x="73" y="214" width="1" height="29" fill="#32cd32"/><rect x="72" y="230" width="3" height="8" fill="#32cd32"/>
<rect x="77" y="209" width="1" height="36" fill="#ff0000"/><rect x="76" y="209" width="3" height="29" fill="#ff0000"/>
<rect x="77" y="210" width="1" height="27" fill="#ff4500"/>
<rect x="81" y="204" width="1" height="9" fill="#ff0000"/><rect x="80" y="204" width="3" height="6" fill="#ff0000"/>
<rect x="81" y="205" width="1" height="4" fill="#ff4500"/>
<rect x="85" y="182" width="1" height="31" fill="#ff0000"/><rect x="84" y="185" width="3" height="19" fill="#ff0000"/>
<rect x="85" y="186" width="1" height="17" fill="#ff4500"/>
<rect x="89" y="172" width="1" height="21" fill="#ff0000"/><rect x="88" y="177" width="3" height="7" fill="#ff0000"/>
<rect x="89" y="178" width="1" height="5" fill="#ff4500"/>
<rect x="93" y="163" width="1" height="21" fill="#ff0000"/><rect x="92" y="174" width="3" height="4" fill="#ff0000"/>
<rect x="93" y="175" width="1" height="2" fill="#ff4500"/>
<rect x="97" y="155" width="1" height="29" fill="#ff0000"/><rect x="96" y="161" width="3" height="13" fill="#ff0000"/>
<rect x="97" y="162" width="1" height="11" fill="#ff4500"/>
<rect x="101" y="160" width="1" height="20" fill="#32cd32"/><rect x="100" y="161" width="3" height="5" fill="#32cd32"/>
<rect x="105" y="159" width="1" height="9" fill="#ff0000"/><rect x="104" y="163" width="3" height="3" fill="#ff0000"/>
<rect x="105" y="164" width="1" height="1" fill="#ff4500"/>
<rect x="109" y="148" width="1" height="14" fill="#ff0000"/><rect x="108" y="150" width="3" height="12" fill="#ff0000"/>
<rect x="109" y="151" width="1" height="10" fill="#ff4500"/>
<rect x="113" y="140" width="1" height="29" fill="#32cd32"/><rect x="112" y="150" width="3" height="4" fill="#32cd32"/>
<rect x="117" y="152" width="1" height="26" fill="#32cd32"/><rect x="116" y="154" width="3" height="20" fill="#32cd32"/>
<rect x="121" y="147" width="1" height="32" fill="#ff0000"/><rect x="120" y="170" width="3" height="4" fill="#ff0000"/>
<rect x="121" y="171" width="1" height="2" fill="#ff4500"/>
<rect x="125" y="110" width="1" height="62" fill="#ff0000"/><rect x="124" y="112" width="3" height="59" fill="#ff0000"/>
<rect x="125" y="113" width="1" height="57" fill="#ff4500"/>
<rect x="129" y="105" width="1" height="11" fill="#ff0000"/><rect x="128" y="111" width="3" height="2" fill="#ff0000"/>
<rect x="133" y="96" width="1" height="21" fill="#ff0000"/><rect x="132" y="100" width="3" height="9" fill="#ff0000"/>
<rect x="133" y="101" width="1" height="7" fill="#ff4500"/>
<rect x="137" y="88" width="1" height="17" fill="#ff0000"/><rect x="136" y="90" width="3" height="6" fill="#ff0000"/>
<rect x="137" y="91" width="1" height="4" fill="#ff4500"/>
<rect x="141" y="85" width="1" height="12" fill="#ff0000"/><rect x="140" y="88" width="3" height="7" fill="#ff0000"/>
<rect x="141" y="89" width="1" height="5" fill="#ff4500"/>
<rect x="145" y="84" width="1" height="16" fill="#32cd32"/><rect x="144" y="86" width="3" height="11" fill="#32cd32"/>
<rect x="149" y="88" width="1" height="87" fill="#32cd32"/><rect x="148" y="92" width="3" height="76" fill="#32cd32"/>
<rect x="153" y="164" width="1" height="23" fill="#32cd32"/><rect x="152" y="168" width="3" height="18" fill="#32cd32"/>
<rect x="157" y="148" width="1" height="37" fill="#ff0000"/><rect x="156" y="150" width="3" height="30" fill="#ff0000"/>
<rect x="157" y="151" width="1" height="28" fill="#ff4500"/>
<rect x="161" y="135" width="1" height="38" fill="#ff0000"/><rect x="160" y="136" width="3" height="14" fill="#ff0000"/>
<rect x="161" y="137" width="1" height="12" fill="#ff4500"/>
<rect x="165" y="124" width="1" height="33" fill="#32cd32"/><rect x="164" y="136" width="3" height="8" fill="#32cd32"/>
<rect x="169" y="135" width="1" height="30" fill="#ff0000"/><rect x="168" y="142" width="3" height="2" fill="#ff0000"/>
<rect x="173" y="135" width="1" height="92" fill="#32cd32"/><rect x="172" y="142" width="3" height="66" fill="#32cd32"/>
<rect x="177" y="193" width="1" height="19" fill="#ff0000"/><rect x="176" y="194" width="3" height="12" fill="#ff0000"/>
<rect x="177" y="195" width="1" height="10" fill="#ff4500"/>
<rect x="181" y="179" width="1" height="41" fill="#32cd32"/><rect x="180" y="191" width="3" height="14" fill="#32cd32"/>
<rect x="185" y="180" width="1" height="47" fill="#ff0000"/><rect x="184" y="190" width="3" height="16" fill="#ff0000"/>
<rect x="185" y="191" width="1" height="14" fill="#ff4500"/>
<rect x="189" y="168" width="1" height="37" fill="#ff0000"/><rect x="188" y="183" width="3" height="7" fill="#ff0000"/>
<rect x="189" y="184" width="1" height="5" fill="#ff4500"/>
<rect x="193" y="149" width="1" height="39" fill="#ff0000"/><rect x="192" y="158" width="3" height="25" fill="#ff0000"/>
<rect x="193" y="159" width="1" height="23" fill="#ff4500"/>
<rect x="197" y="142" width="1" height="37" fill="#32cd32"/><rect x="196" y="158" width="3" height="9" fill="#32cd32"/>
<rect x="201" y="154" width="1" height="15" fill="#ff0000"/><rect x="200" y="162" width="3" height="5" fill="#ff0000"/>
<rect x="201" y="163" width="1" height="3" fill="#ff4500"/>
<rect x="205" y="154" width="1" height="33" fill="#32cd32"/><rect x="204" y="164" width="3" height="13" fill="#32cd32"/>
<rect x="209" y="161" width="1" height="24" fill="#ff0000"/><rect x="208" y="167" width="3" height="10" fill="#ff0000"/>
<rect x="209" y="168" width="1" height="8" fill="#ff4500"/>
<rect x="213" y="162" width="1" height="26" fill="#32cd32"/><rect x="212" y="167" width="3" height="19" fill="#32cd32"/>
<rect x="217" y="119" width="1" height="71" fill="#ff0000"/><rect x="216" y="145" width="3" height="41" fill="#ff0000"/>
<rect x="217" y="146" width="1" height="39" fill="#ff4500"/>
<rect x="221" y="140" width="1" height="42" fill="#32cd32"/><rect x="220" y="144" width="3" height="25" fill="#32cd32"/>
<rect x="225" y="162" width="1" height="8" fill="#ff0000"/><rect x="224" y="166" width="3" height="3" fill="#ff0000"/>
<rect x="225" y="167" width="1" height="1" fill="#ff4500"/>
<rect x="229" y="163" width="1" height="25" fill="#ff0000"/><rect x="228" y="166" width="3" height="13" fill="#ff0000"/>
<rect x="229" y="167" width="1" height="11" fill="#ff4500"/>
<rect x="233" y="162" width="1" height="49" fill="#32cd32"/><rect x="232" y="166" width="3" height="32" fill="#32cd32"/>
<rect x="237" y="198" width="1" height="47" fill="#32cd32"/><rect x="236" y="198" width="3" height="29" fill="#32cd32"/>
<rect x="241" y="223" width="1" height="31" fill="#32cd32"/><rect x="240" y="226" width="3" height="25" fill="#32cd32"/>
<rect x="245" y="218" width="1" height="33" fill="#ff0000"/><rect x="244" y="223" width="3" height="28" fill="#ff0000"/>
<rect x="245" y="224" width="1" height="26" fill="#ff4500"/>
<rect x="249" y="220" width="1" height="10" fill="#32cd32"/><rect x="248" y="223" width="3" height="4" fill="#32cd32"/>
<rect x="253" y="210" width="1" height="20" fill="#ff0000"/><rect x="252" y="216" width="3" height="3" fill="#ff0000"/>
<rect x="253" y="217" width="1" height="1" fill="#ff4500"/>
<rect x="257" y="206" width="1" height="33" fill="#32cd32"/><rect x="256" y="216" width="3" height="18" fill="#32cd32"/>
<rect x="261" y="219" width="1" height="25" fill="#ff0000"/><rect x="260" y="231" width="3" height="3" fill="#ff0000"/>
<rect x="261" y="232" width="1" height="1" fill="#ff4500"/>
<rect x="265" y="227" width="1" height="42" fill="#32cd32"/><rect x="264" y="231" width="3" height="5" fill="#32cd32"/>
<rect x="269" y="227" width="1" height="9" fill="#ff0000"/><rect x="268" y="229" width="3" height="7" fill="#ff0000"/>
<rect x="269" y="230" width="1" height="5" fill="#ff4500"/>
<rect x="273" y="235" width="1" height="4" fill="#32cd32"/><rect x="272" y="236" width="3" height="1" fill="#32cd32"/>
<rect x="277" y="208" width="1" height="30" fill="#ff0000"/><rect x="276" y="210" width="3" height="22" fill="#ff0000"/>
<rect x="277" y="211" width="1" height="20" fill="#ff4500"/>
<rect x="281" y="207" width="1" height="28" fill="#ff0000"/><rect x="280" y="208" width="3" height="3" fill="#ff0000"/>
<rect x="281" y="209" width="1" height="1" fill="#ff4500"/>
<rect x="285" y="200" width="1" height="31" fill="#32cd32"/><rect x="284" y="208" width="3" height="17" fill="#32cd32"/>
<rect x="289" y="213" width="1" height="24" fill="#ff0000"/><rect x="288" y="218" width="3" height="7" fill="#ff0000"/>
<rect x="289" y="219" width="1" height="5" fill="#ff4500"/>
<rect x="293" y="208" width="1" height="35" fill="#32cd32"/><rect x="292" y="218" width="3" height="5" fill="#32cd32"/>
<rect x="297" y="221" width="1" height="5" fill="#32cd32"/><rect x="296" y="222" width="3" height="3" fill="#32cd32"/>
<rect x="301" y="220" width="1" height="20" fill="#32cd32"/><rect x="300" y="226" width="3" height="2" fill="#32cd32"/>
<rect x="305" y="221" width="1" height="23" fill="#ff0000"/><rect x="304" y="223" width="3" height="5" fill="#ff0000"/>
<rect x="305" y="224" width="1" height="3" fill="#ff4500"/>
<rect x="309" y="174" width="1" height="49" fill="#ff0000"/><rect x="308" y="175" width="3" height="48" fill="#ff0000"/>
<rect x="309" y="176" width="1" height="46" fill="#ff4500"/>
<rect x="313" y="160" width="1" height="27" fill="#ff0000"/><rect x="312" y="168" width="3" height="7" fill="#ff0000"/>
<rect x="313" y="169" width="1" height="5" fill="#ff4500"/>
<rect x="317" y="161" width="1" height="18" fill="#32cd32"/><rect x="316" y="168" width="3" height="5" fill="#32cd32"/>
<rect x="321" y="172" width="1" height="4" fill="#32cd32"/><rect x="320" y="173" width="3" height="2" fill="#32cd32"/>
<rect x="325" y="149" width="1" height="38" fill="#ff0000"/><rect x="324" y="162" width="3" height="16" fill="#ff0000"/>
<rect x="325" y="163" width="1" height="14" fill="#ff4500"/>
<rect x="329" y="134" width="1" height="42" fill="#32cd32"/><rect x="328" y="162" width="3" height="9" fill="#32cd32"/>
<rect x="333" y="160" width="1" height="30" fill="#ff0000"/><rect x="332" y="163" width="3" height="8" fill="#ff0000"/>
<rect x="333" y="164" width="1" height="6" fill="#ff4500"/>
<rect x="337" y="159" width="1" height="27" fill="#32cd32"/><rect x="336" y="163" width="3" height="16" fill="#32cd32"/>
<rect x="341" y="168" width="1" height="26" fill="#ff0000"/><rect x="340" y="171" width="3" height="7" fill="#ff0000"/>
<rect x="341" y="172" width="1" height="5" fill="#ff4500"/>
<rect x="345" y="162" width="1" height="12" fill="#ff0000"/><rect x="344" y="162" width="3" height="10" fill="#ff0000"/>
<rect x="345" y="163" width="1" height="8" fill="#ff4500"/>
<rect x="349" y="135" width="1" height="35" fill="#ff0000"/><rect x="348" y="141" width="3" height="27" fill="#ff0000"/>
<rect x="349" y="142" width="1" height="25" fill="#ff4500"/>
<rect x="353" y="139" width="1" height="21" fill="#32cd32"/><rect x="352" y="141" width="3" height="13" fill="#32cd32"/>
<rect x="357" y="153" width="1" height="25" fill="#32cd32"/><rect x="356" y="154" width="3" height="4" fill="#32cd32"/>
<rect x="361" y="133" width="1" height="32" fill="#32cd32"/><rect x="360" y="157" width="3" height="6" fill="#32cd32"/>
<rect x="365" y="149" width="1" height="39" fill="#32cd32"/><rect x="364" y="162" width="3" height="21" fill="#32cd32"/>
<rect x="369" y="181" width="1" height="8" fill="#32cd32"/><rect x="368" y="182" width="3" height="7" fill="#32cd32"/>
<rect x="373" y="158" width="1" height="29" fill="#ff0000"/><rect x="372" y="162" width="3" height="20" fill="#ff0000"/>
<rect x="373" y="163" width="1" height="18" fill="#ff4500"/>
<rect x="377" y="158" width="1" height="44" fill="#32cd32"/><rect x="376" y="162" width="3" height="34" fill="#32cd32"/>
<rect x="381" y="163" width="1" height="34" fill="#ff0000"/><rect x="380" y="166" width="3" height="30" fill="#ff0000"/>
<rect x="381" y="167" width="1" height="28" fill="#ff4500"/>
<rect x="385" y="154" width="1" height="36" fill="#ff0000"/><rect x="384" y="158" width="3" height="9" fill="#ff0000"/>
<rect x="385" y="159" width="1" height="7" fill="#ff4500"/>
<rect x="389" y="113" width="1" height="47" fill="#ff0000"/><rect x="388" y="113" width="3" height="45" fill="#ff0000"/>
<rect x="389" y="114" width="1" height="43" fill="#ff4500"/>
<rect x="393" y="113" width="1" height="12" fill="#32cd32"/><rect x="392" y="113" width="3" height="8" fill="#32cd32"/>
<rect x="397" y="99" width="1" height="26" fill="#ff0000"/><rect x="396" y="107" width="3" height="11" fill="#ff0000"/>
<rect x="397" y="108" width="1" height="9" fill="#ff4500"/>
<rect x="401" y="106" width="1" height="27" fill="#32cd32"/><rect x="400" y="107" width="3" height="16" fill="#32cd32"/>
<rect x="405" y="119" width="1" height="56" fill="#32cd32"/><rect x="404" y="122" width="3" height="52" fill="#32cd32"/>
<rect x="409" y="167" width="1" height="29" fill="#32cd32"/><rect x="408" y="173" width="3" height="7" fill="#32cd32"/>
<rect x="413" y="151" width="1" height="36" fill="#ff0000"/><rect x="412" y="153" width="3" height="26" fill="#ff0000"/>
<rect x="413" y="154" width="1" height="24" fill="#ff4500"/>
<rect x="417" y="148" width="1" height="7" fill="#ff0000"/><rect x="416" y="148" width="3" height="6" fill="#ff0000"/>
<rect x="417" y="149" width="1" height="4" fill="#ff4500"/>
<rect x="421" y="150" width="1" height="26" fill="#32cd32"/><rect x="420" y="152" width="3" height="7" fill="#32cd32"/>
<rect x="425" y="135" width="1" height="27" fill="#ff0000"/><rect x="424" y="151" width="3" height="8" fill="#ff0000"/>
<rect x="425" y="152" width="1" height="6" fill="#ff4500"/>
<rect x="429" y="139" width="1" height="36" fill="#32cd32"/><rect x="428" y="151" width="3" height="14" fill="#32cd32"/>
<rect x="433" y="151" width="1" height="34" fill="#ff0000"/><rect x="432" y="152" width="3" height="13" fill="#ff0000"/>
<rect x="433" y="153" width="1" height="11" fill="#ff4500"/>
<rect x="437" y="150" width="1" height="27" fill="#32cd32"/><rect x="436" y="152" width="3" height="24" fill="#32cd32"/>
<rect x="441" y="173" width="1" height="8" fill="#ff0000"/><rect x="440" y="174" width="3" height="2" fill="#ff0000"/>
<rect x="445" y="163" width="1" height="24" fill="#ff0000"/><rect x="444" y="170" width="3" height="8" fill="#ff0000"/>
<rect x="445" y="171" width="1" height="6" fill="#ff4500"/>
<rect x="449" y="153" width="1" height="20" fill="#ff0000"/><rect x="448" y="170" width="3" height="2" fill="#ff0000"/>
<rect x="453" y="144" width="1" height="31" fill="#ff0000"/><rect x="452" y="169" width="3" height="2" fill="#ff0000"/>
<rect x="457" y="162" width="1" height="17" fill="#32cd32"/><rect x="456" y="169" width="3" height="4" fill="#32cd32"/>
<rect x="461" y="167" width="1" height="34" fill="#32cd32"/><rect x="460" y="172" width="3" height="16" fill="#32cd32"/>
<rect x="465" y="182" width="1" height="6" fill="#ff0000"/><rect x="464" y="185" width="3" height="3" fill="#ff0000"/>
<rect x="465" y="186" width="1" height="1" fill="#ff4500"/>
<rect x="469" y="170" width="1" height="20" fill="#ff0000"/><rect x="468" y="170" width="3" height="15" fill="#ff0000"/>
<rect x="469" y="171" width="1" height="13" fill="#ff4500"/>
<rect x="473" y="156" width="1" height="20" fill="#ff0000"/><rect x="472" y="159" width="3" height="12" fill="#ff0000"/>
<rect x="473" y="160" width="1" height="10" fill="#ff4500"/>
<rect x="477" y="155" width="1" height="28" fill="#32cd32"/><rect x="476" y="159" width="3" height="7" fill="#32cd32"/>
<rect x="481" y="163" width="1" height="51" fill="#32cd32"/><rect x="480" y="165" width="3" height="48" fill="#32cd32"/>
<rect x="485" y="168" width="1" height="48" fill="#ff0000"/><rect x="484" y="169" width="3" height="43" fill="#ff0000"/>
<rect x="485" y="170" width="1" height="41" fill="#ff4500"/>
<rect x="489" y="168" width="1" height="4" fill="#ff0000"/><rect x="488" y="169" width="3" height="1" fill="#ff0000"/>
<rect x="493" y="158" width="1" height="19" fill="#ff0000"/><rect x="492" y="159" width="3" height="13" fill="#ff0000"/>
<rect x="493" y="160" width="1" height="11" fill="#ff4500"/>
<rect x="497" y="158" width="1" height="17" fill="#32cd32"/><rect x="496" y="159" width="3" height="11" fill="#32cd32"/>
<rect x="501" y="160" width="1" height="18" fill="#32cd32"/><rect x="500" y="170" width="3" height="6" fill="#32cd32"/>
<rect x="505" y="159" width="1" height="23" fill="#ff0000"/><rect x="504" y="165" width="3" height="10" fill="#ff0000"/>
<rect x="505" y="166" width="1" height="8" fill="#ff4500"/>
<rect x="509" y="153" width="1" height="42" fill="#32cd32"/><rect x="508" y="165" width="3" height="27" fill="#32cd32"/>
<rect x="513" y="188" width="1" height="8" fill="#ff0000"/><rect x="512" y="188" width="3" height="4" fill="#ff0000"/>
<rect x="513" y="189" width="1" height="2" fill="#ff4500"/>
<rect x="517" y="177" width="1" height="16" fill="#ff0000"/><rect x="516" y="181" width="3" height="5" fill="#ff0000"/>
<rect x="517" y="182" width="1" height="3" fill="#ff4500"/>
<rect x="521" y="181" width="1" height="21" fill="#32cd32"/><rect x="520" y="181" width="3" height="21" fill="#32cd32"/>
<rect x="525" y="182" width="1" height="20" fill="#ff0000"/><rect x="524" y="184" width="3" height="18" fill="#ff0000"/>
<rect x="525" y="185" width="1" height="16" fill="#ff4500"/>
<rect x="529" y="181" width="1" height="79" fill="#32cd32"/><rect x="528" y="184" width="3" height="74" fill="#32cd32"/>
<rect x="533" y="255" width="1" height="39" fill="#32cd32"/><rect x="532" y="258" width="3" height="26" fill="#32cd32"/>
<rect x="537" y="278" width="1" height="10" fill="#ff0000"/><rect x="536" y="284" width="3" height="1" fill="#ff0000"/>
<rect x="541" y="266" width="1" height="29" fill="#ff0000"/><rect x="540" y="271" width="3" height="13" fill="#ff0000"/>
<rect x="541" y="272" width="1" height="11" fill="#ff4500"/>
<rect x="545" y="262" width="1" height="25" fill="#32cd32"/><rect x="544" y="270" width="3" height="2" fill="#32cd32"/>
<rect x="549" y="237" width="1" height="35" fill="#ff0000"/><rect x="548" y="242" width="3" height="30" fill="#ff0000"/>
<rect x="549" y="243" width="1" height="28" fill="#ff4500"/>
<rect x="553" y="240" width="1" height="14" fill="#32cd32"/><rect x="552" y="242" width="3" height="8" fill="#32cd32"/>
<rect x="557" y="228" width="1" height="21" fill="#ff0000"/><rect x="556" y="240" width="3" height="9" fill="#ff0000"/>
<rect x="557" y="241" width="1" height="7" fill="#ff4500"/>
<rect x="561" y="239" width="1" height="7" fill="#32cd32"/><rect x="560" y="240" width="3" height="4" fill="#32cd32"/>
<rect x="565" y="236" width="1" height="23" fill="#32cd32"/><rect x="564" y="243" width="3" height="7" fill="#32cd32"/>
<rect x="569" y="249" width="1" height="32" fill="#32cd32"/><rect x="568" y="250" width="3" height="27" fill="#32cd32"/>
<rect x="573" y="271" width="1" height="17" fill="#32cd32"/><rect x="572" y="276" width="3" height="10" fill="#32cd32"/>
<rect x="577" y="280" width="1" height="22" fill="#32cd32"/><rect x="576" y="286" width="3" height="12" fill="#32cd32"/>
<rect x="581" y="283" width="1" height="25" fill="#ff0000"/><rect x="580" y="285" width="3" height="13" fill="#ff0000"/>
<rect x="581" y="286" width="1" height="11" fill="#ff4500"/>
<rect x="585" y="268" width="1" height="20" fill="#ff0000"/><rect x="584" y="270" width="3" height="16" fill="#ff0000"/>
<rect x="585" y="271" width="1" height="14" fill="#ff4500"/>
<rect x="589" y="267" width="1" height="13" fill="#ff0000"/><rect x="588" y="268" width="3" height="7" fill="#ff0000"/>
<rect x="589" y="269" width="1" height="5" fill="#ff4500"/>
<rect x="593" y="237" width="1" height="54" fill="#32cd32"/><rect x="592" y="269" width="3" height="17" fill="#32cd32"/>
<rect x="597" y="268" width="1" height="34" fill="#32cd32"/><rect x="596" y="285" width="3" height="7" fill="#32cd32"/>
<rect x="601" y="280" width="1" height="44" fill="#32cd32"/><rect x="600" y="291" width="3" height="23" fill="#32cd32"/>
<rect x="605" y="289" width="1" height="37" fill="#ff0000"/><rect x="604" y="294" width="3" height="20" fill="#ff0000"/>
<rect x="605" y="295" width="1" height="18" fill="#ff4500"/>
<rect x="609" y="288" width="1" height="7" fill="#ff0000"/><rect x="608" y="288" width="3" height="6" fill="#ff0000"/>
<rect x="609" y="289" width="1" height="4" fill="#ff4500"/>
<rect x="613" y="285" width="1" height="23" fill="#ff0000"/><rect x="612" y="288" width="3" height="1" fill="#ff0000"/>
<rect x="617" y="282" width="1" height="36" fill="#32cd32"/><rect x="616" y="289" width="3" height="9" fill="#32cd32"/>
<rect x="621" y="290" width="1" height="26" fill="#32cd32"/><rect x="620" y="297" width="3" height="3" fill="#32cd32"/>
<rect x="625" y="290" width="1" height="25" fill="#32cd32"/><rect x="624" y="299" width="3" height="16" fill="#32cd32"/>
<rect x="629" y="311" width="1" height="21" fill="#32cd32"/><rect x="628" y="314" width="3" height="14" fill="#32cd32"/>
<rect x="633" y="323" width="1" height="9" fill="#32cd32"/><rect x="632" y="326" width="3" height="4" fill="#32cd32"/>
<rect x="637" y="333" width="1" height="33" fill="#32cd32"/><rect x="636" y="335" width="3" height="23" fill="#32cd32"/>
<rect x="641" y="351" width="1" height="28" fill="#32cd32"/><rect x="640" y="358" width="3" height="9" fill="#32cd32"/>
<rect x="645" y="350" width="1" height="33" fill="#ff0000"/><rect x="644" y="352" width="3" height="15" fill="#ff0000"/>
<rect x="645" y="353" width="1" height="13" fill="#ff4500"/>
<rect x="649" y="332" width="1" height="27" fill="#ff0000"/><rect x="648" y="348" width="3" height="4" fill="#ff0000"/>
<rect x="649" y="349" width="1" height="2" fill="#ff4500"/>
<rect x="653" y="336" width="1" height="16" fill="#32cd32"/><rect x="652" y="348" width="3" height="1" fill="#32cd32"/>
<rect x="657" y="344" width="1" height="5" fill="#ff0000"/><rect x="656" y="348" width="3" height="1" fill="#ff0000"/>
<rect x="661" y="335" width="1" height="29" fill="#ff0000"/><rect x="660" y="337" width="3" height="10" fill="#ff0000"/>
<rect x="661" y="338" width="1" height="8" fill="#ff4500"/>
<rect x="665" y="336" width="1" height="25" fill="#32cd32"/><rect x="664" y="338" width="3" height="9" fill="#32cd32"/>
<rect x="669" y="343" width="1" height="25" fill="#32cd32"/><rect x="668" y="346" width="3" height="11" fill="#32cd32"/>
<rect x="673" y="324" width="1" height="47" fill="#ff0000"/><rect x="672" y="331" width="3" height="25" fill="#ff0000"/>
<rect x="673" y="332" width="1" height="23" fill="#ff4500"/>
<rect x="677" y="330" width="1" height="28" fill="#32cd32"/><rect x="676" y="330" width="3" height="25" fill="#32cd32"/>
<rect x="681" y="354" width="1" height="10" fill="#32cd32"/><rect x="680" y="354" width="3" height="9" fill="#32cd32"/>
<rect x="685" y="339" width="1" height="26" fill="#ff0000"/><rect x="684" y="348" width="3" height="10" fill="#ff0000"/>
<rect x="685" y="349" width="1" height="8" fill="#ff4500"/>
<rect x="689" y="327" width="1" height="26" fill="#ff0000"/><rect x="688" y="338" width="3" height="11" fill="#ff0000"/>
<rect x="689" y="339" width="1" height="9" fill="#ff4500"/>
<rect x="693" y="318" width="1" height="28" fill="#32cd32"/><rect x="692" y="338" width="3" height="4" fill="#32cd32"/>
<rect x="697" y="323" width="1" height="20" fill="#ff0000"/><rect x="696" y="327" width="3" height="15" fill="#ff0000"/>
<rect x="697" y="328" width="1" height="13" fill="#ff4500"/>
<rect x="701" y="327" width="1" height="30" fill="#32cd32"/><rect x="700" y="327" width="3" height="25" fill="#32cd32"/>
<rect x="705" y="350" width="1" height="5" fill="#32cd32"/><rect x="704" y="352" width="3" height="3" fill="#32cd32"/>
<rect x="709" y="347" width="1" height="19" fill="#ff0000"/><rect x="708" y="359" width="3" height="1" fill="#ff0000"/>
<rect x="713" y="352" width="1" height="19" fill="#ff0000"/><rect x="712" y="357" width="3" height="3" fill="#ff0000"/>
<rect x="713" y="358" width="1" height="1" fill="#ff4500"/>
<rect x="717" y="337" width="1" height="31" fill="#ff0000"/><rect x="716" y="343" width="3" height="15" fill="#ff0000"/>
<rect x="717" y="344" width="1" height="13" fill="#ff4500"/>
<rect x="721" y="336" width="1" height="26" fill="#32cd32"/><rect x="720" y="344" width="3" height="14" fill="#32cd32"/>
<rect x="725" y="340" width="1" height="24" fill="#ff0000"/><rect x="724" y="342" width="3" height="16" fill="#ff0000"/>
<rect x="725" y="343" width="1" height="14" fill="#ff4500"/>
<rect x="729" y="340" width="1" height="6" fill="#32cd32"/><rect x="728" y="342" width="3" height="2" fill="#32cd32"/>
<rect x="733" y="344" width="1" height="26" fill="#32cd32"/><rect x="732" y="345" width="3" height="16" fill="#32cd32"/>
<rect x="737" y="359" width="1" height="41" fill="#32cd32"/><rect x="736" y="360" width="3" height="40" fill="#32cd32"/>
<rect x="741" y="392" width="1" height="20" fill="#32cd32"/><rect x="740" y="400" width="3" height="10" fill="#32cd32"/>
<rect x="745" y="395" width="1" height="57" fill="#32cd32"/><rect x="744" y="409" width="3" height="32" fill="#32cd32"/>
<rect x="749" y="439" width="1" height="32" fill="#32cd32"/><rect x="748" y="440" width="3" height="18" fill="#32cd32"/>
<rect x="753" y="452" width="1" height="7" fill="#ff0000"/><rect x="752" y="455" width="3" height="3" fill="#ff0000"/>
<rect x="753" y="456" width="1" height="1" fill="#ff4500"/>
<rect x="757" y="421" width="1" height="35" fill="#ff0000"/><rect x="756" y="422" width="3" height="33" fill="#ff0000"/>
<rect x="757" y="423" width="1" height="31" fill="#ff4500"/>
<rect x="761" y="392" width="1" height="34" fill="#ff0000"/><rect x="760" y="400" width="3" height="22" fill="#ff0000"/>
<rect x="761" y="401" width="1" height="20" fill="#ff4500"/>
<rect x="765" y="393" width="1" height="16" fill="#ff0000"/><rect x="764" y="395" width="3" height="5" fill="#ff0000"/>
<rect x="765" y="396" width="1" height="3" fill="#ff4500"/>
<rect x="769" y="387" width="1" height="19" fill="#32cd32"/><rect x="768" y="394" width="3" height="8" fill="#32cd32"/>
<rect x="773" y="373" width="1" height="43" fill="#ff0000"/><rect x="772" y="374" width="3" height="28" fill="#ff0000"/>
<rect x="773" y="375" width="1" height="26" fill="#ff4500"/>
<rect x="777" y="370" width="1" height="6" fill="#ff0000"/><rect x="776" y="372" width="3" height="3" fill="#ff0000"/>
<rect x="777" y="373" width="1" height="1" fill="#ff4500"/>
<rect x="781" y="369" width="1" height="17" fill="#32cd32"/><rect x="780" y="373" width="3" height="9" fill="#32cd32"/>
<rect x="785" y="358" width="1" height="27" fill="#ff0000"/><rect x="784" y="375" width="3" height="7" fill="#ff0000"/>
<rect x="785" y="376" width="1" height="5" fill="#ff4500"/>
<rect x="789" y="343" width="1" height="33" fill="#ff0000"/><rect x="788" y="346" width="3" height="30" fill="#ff0000"/>
<rect x="789" y="347" width="1" height="28" fill="#ff4500"/>
<rect x="793" y="326" width="1" height="27" fill="#ff0000"/><rect x="792" y="331" width="3" height="16" fill="#ff0000"/>
<rect x="793" y="332" width="1" height="14" fill="#ff4500"/>
<rect x="797" y="294" width="1" height="40" fill="#ff0000"/><rect x="796" y="311" width="3" height="21" fill="#ff0000"/>
<rect x="797" y="312" width="1" height="19" fill="#ff4500"/>
<rect x="801" y="300" width="1" height="13" fill="#ff0000"/><rect x="800" y="303" width="3" height="9" fill="#ff0000"/>
<rect x="801" y="304" width="1" height="7" fill="#ff4500"/>
<rect x="805" y="306" width="1" height="13" fill="#32cd32"/><rect x="804" y="307" width="3" height="8" fill="#32cd32"/>
<rect x="809" y="299" width="1" height="45" fill="#32cd32"/><rect x="808" y="314" width="3" height="21" fill="#32cd32"/>
<rect x="813" y="330" width="1" height="27" fill="#32cd32"/><rect x="812" y="334" width="3" height="13" fill="#32cd32"/>
<rect x="817" y="333" width="1" height="24" fill="#ff0000"/><rect x="816" y="340" width="3" height="7" fill="#ff0000"/>
<rect x="817" y="341" width="1" height="5" fill="#ff4500"/>
<rect x="821" y="326" width="1" height="24" fill="#32cd32"/><rect x="820" y="340" width="3" height="7" fill="#32cd32"/>
<rect x="825" y="343" width="1" height="7" fill="#32cd32"/><rect x="824" y="347" width="3" height="2" fill="#32cd32"/>
<rect x="829" y="343" width="1" height="19" fill="#ff0000"/><rect x="828" y="345" width="3" height="2" fill="#ff0000"/>
<rect x="833" y="343" width="1" height="25" fill="#32cd32"/><rect x="832" y="345" width="3" height="19" fill="#32cd32"/>
<rect x="837" y="360" width="1" height="18" fill="#32cd32"/><rect x="836" y="362" width="3" height="6" fill="#32cd32"/>
<rect x="841" y="356" width="1" height="35" fill="#32cd32"/><rect x="840" y="367" width="3" height="18" fill="#32cd32"/>
<rect x="845" y="368" width="1" height="27" fill="#32cd32"/><rect x="844" y="384" width="3" height="7" fill="#32cd32"/>
<rect x="849" y="387" width="1" height="8" fill="#32cd32"/><rect x="848" y="390" width="3" height="2" fill="#32cd32"/>
<rect x="853" y="393" width="1" height="24" fill="#32cd32"/><rect x="852" y="395" width="3" height="10" fill="#32cd32"/>
<rect x="857" y="386" width="1" height="30" fill="#32cd32"/><rect x="856" y="403" width="3" height="4" fill="#32cd32"/>
<rect x="861" y="393" width="1" height="22" fill="#ff0000"/><rect x="860" y="396" width="3" height="11" fill="#ff0000"/>
<rect x="861" y="397" width="1" height="9" fill="#ff4500"/>
<rect x="865" y="373" width="1" height="42" fill="#ff0000"/><rect x="864" y="380" width="3" height="17" fill="#ff0000"/>
<rect x="865" y="381" width="1" height="15" fill="#ff4500"/>
<rect x="869" y="370" width="1" height="39" fill="#32cd32"/><rect x="868" y="380" width="3" height="19" fill="#32cd32"/>
<rect x="873" y="394" width="1" height="7" fill="#32cd32"/><rect x="872" y="398" width="3" height="2" fill="#32cd32"/>
<rect x="877" y="382" width="1" height="21" fill="#ff0000"/><rect x="876" y="386" width="3" height="11" fill="#ff0000"/>
<rect x="877" y="387" width="1" height="9" fill="#ff4500"/>
<rect x="881" y="373" width="1" height="39" fill="#32cd32"/><rect x="880" y="386" width="3" height="22" fill="#32cd32"/>
<rect x="885" y="395" width="1" height="40" fill="#32cd32"/><rect x="884" y="408" width="3" height="23" fill="#32cd32"/>
<rect x="889" y="398" width="1" height="42" fill="#ff0000"/><rect x="888" y="412" width="3" height="18" fill="#ff0000"/>
<rect x="889" y="413" width="1" height="16" fill="#ff4500"/>
<rect x="893" y="390" width="1" height="40" fill="#ff0000"/><rect x="892" y="392" width="3" height="20" fill="#ff0000"/>
<rect x="893" y="393" width="1" height="18" fill="#ff4500"/>
<rect x="897" y="389" width="1" height="6" fill="#32cd32"/><rect x="896" y="392" width="3" height="3" fill="#32cd32"/>
<rect x="901" y="376" width="1" height="26" fill="#ff0000"/><rect x="900" y="386" width="3" height="4" fill="#ff0000"/>
<rect x="901" y="387" width="1" height="2" fill="#ff4500"/>
<rect x="905" y="379" width="1" height="24" fill="#ff0000"/><rect x="904" y="380" width="3" height="7" fill="#ff0000"/>
<rect x="905" y="381" width="1" height="5" fill="#ff4500"/>
<rect x="909" y="378" width="1" height="36" fill="#32cd32"/><rect x="908" y="380" width="3" height="20" fill="#32cd32"/>
<rect x="913" y="366" width="1" height="38" fill="#ff0000"/><rect x="912" y="368" width="3" height="32" fill="#ff0000"/>
<rect x="913" y="369" width="1" height="30" fill="#ff4500"/>
<rect x="917" y="360" width="1" height="25" fill="#32cd32"/><rect x="916" y="368" width="3" height="7" fill="#32cd32"/>
<rect x="921" y="371" width="1" height="8" fill="#ff0000"/><rect x="920" y="372" width="3" height="3" fill="#ff0000"/>
<rect x="921" y="373" width="1" height="1" fill="#ff4500"/>
<rect x="925" y="376" width="1" height="7" fill="#32cd32"/><rect x="924" y="377" width="3" height="5" fill="#32cd32"/>
</g>
<g shape-rendering="crispEdges">
<rect x="5" y="495" width="2" height="33" fill="#c0c0c0"/>
<rect x="8" y="498" width="3" height="30" fill="#c0c0c0"/>
<rect x="12" y="501" width="3" height="27" fill="#c0c0c0"/>
<rect x="16" y="504" width="3" height="24" fill="#c0c0c0"/>
<rect x="20" y="504" width="3" height="24" fill="#c0c0c0"/>
<rect x="24" y="504" width="3" height="24" fill="#c0c0c0"/>
<rect x="28" y="505" width="3" height="23" fill="#c0c0c0"/>
<rect x="32" y="507" width="3" height="21" fill="#c0c0c0"/>
<rect x="36" y="510" width="3" height="18" fill="#c0c0c0"/>
<rect x="40" y="510" width="3" height="18" fill="#c0c0c0"/>
<rect x="44" y="513" width="3" height="15" fill="#c0c0c0"/>
<rect x="48" y="516" width="3" height="12" fill="#c0c0c0"/>
<rect x="52" y="519" width="3" height="9" fill="#c0c0c0"/>
<rect x="56" y="522" width="3" height="6" fill="#c0c0c0"/>
<rect x="60" y="526" width="3" height="2" fill="#c0c0c0"/>
<rect x="64" y="528" width="3" height="4" fill="#c0c0c0"/>
<rect x="68" y="528" width="3" height="6" fill="#c0c0c0"/>
<rect x="72" y="528" width="3" height="8" fill="#c0c0c0"/>
<rect x="76" y="528" width="3" height="7" fill="#c0c0c0"/>
<rect x="80" y="528" width="3" height="6" fill="#c0c0c0"/>
<rect x="84" y="528" width="3" height="2" fill="#c0c0c0"/>
<rect x="88" y="527" width="3" height="1" fill="#c0c0c0"/>
<rect x="92" y="525" width="3" height="3" fill="#c0c0c0"/>
<rect x="96" y="522" width="3" height="6" fill="#c0c0c0"/>
<rect x="100" y="520" width="3" height="8" fill="#c0c0c0"/>
<rect x="104" y="518" width="3" height="10" fill="#c0c0c0"/>
<rect x="108" y="515" width="3" height="13" fill="#c0c0c0"/>
<rect x="112" y="514" width="3" height="14" fill="#c0c0c0"/>
<rect x="116" y="515" width="3" height="13" fill="#c0c0c0"/>
<rect x="120" y="515" width="3" height="13" fill="#c0c0c0"/>
<rect x="124" y="511" width="3" height="17" fill="#c0c0c0"/>
<rect x="128" y="507" width="3" height="21" fill="#c0c0c0"/>
<rect x="132" y="503" width="3" height="25" fill="#c0c0c0"/>
<rect x="136" y="500" width="3" height="28" fill="#c0c0c0"/>
<rect x="140" y="497" width="3" height="31" fill="#c0c0c0"/>
<rect x="144" y="497" width="3" height="31" fill="#c0c0c0"/>
<rect x="148" y="500" width="3" height="28" fill="#c0c0c0"/>
<rect x="152" y="508" width="3" height="20" fill="#c0c0c0"/>
<rect x="156" y="511" width="3" height="17" fill="#c0c0c0"/>
<rect x="160" y="512" width="3" height="16" fill="#c0c0c0"/>
<rect x="164" y="513" width="3" height="15" fill="#c0c0c0"/>
<rect x="168" y="515" width="3" height="13" fill="#c0c0c0"/>
<rect x="172" y="522" width="3" height="6" fill="#c0c0c0"/>
<rect x="176" y="527" width="3" height="1" fill="#c0c0c0"/>
<rect x="180" y="528" width="3" height="4" fill="#c0c0c0"/>
<rect x="184" y="528" width="3" height="6" fill="#c0c0c0"/>
<rect x="188" y="528" width="3" height="7" fill="#c0c0c0"/>
<rect x="192" y="528" width="3" height="6" fill="#c0c0c0"/>
<rect x="196" y="528" width="3" height="5" fill="#c0c0c0"/>
<rect x="200" y="528" width="3" height="4" fill="#c0c0c0"/>
<rect x="204" y="528" width="3" height="4" fill="#c0c0c0"/>
<rect x="208" y="528" width="3" height="5" fill="#c0c0c0"/>
<rect x="212" y="528" width="3" height="6" fill="#c0c0c0"/>
<rect x="216" y="528" width="3" height="3" fill="#c0c0c0"/>
<rect x="220" y="528" width="3" height="3" fill="#c0c0c0"/>
<rect x="224" y="528" width="3" height="3" fill="#c0c0c0"/>
<rect x="228" y="528" width="3" height="3" fill="#c0c0c0"/>
<rect x="232" y="528" width="3" height="5" fill="#c0c0c0"/>
<rect x="236" y="528" width="3" height="10" fill="#c0c0c0"/>
<rect x="240" y="528" width="3" height="16" fill="#c0c0c0"/>
<rect x="244" y="528" width="3" height="18" fill="#c0c0c0"/>
<rect x="248" y="528" width="3" height="20" fill="#c0c0c0"/>
<rect x="252" y="528" width="3" height="20" fill="#c0c0c0"/>
<rect x="256" y="528" width="3" height="20" fill="#c0c0c0"/>
<rect x="260" y="528" width="3" height="22" fill="#c0c0c0"/>
<rect x="264" y="528" width="3" height="22" fill="#c0c0c0"/>
<rect x="268" y="528" width="3" height="22" fill="#c0c0c0"/>
<rect x="272" y="528" width="3" height="22" fill="#c0c0c0"/>
<rect x="276" y="528" width="3" height="20" fill="#c0c0c0"/>
<rect x="280" y="528" width="3" height="18" fill="#c0c0c0"/>
<rect x="284" y="528" width="3" height="16" fill="#c0c0c0"/>
<rect x="288" y="528" width="3" height="16" fill="#c0c0c0"/>
<rect x="292" y="528" width="3" height="15" fill="#c0c0c0"/>
<rect x="296" y="528" width="3" height="15" fill="#c0c0c0"/>
<rect x="300" y="528" width="3" height="14" fill="#c0c0c0"/>
<rect x="304" y="528" width="3" height="14" fill="#c0c0c0"/>
<rect x="308" y="528" width="3" height="9" fill="#c0c0c0"/>
<rect x="312" y="528" width="3" height="4" fill="#c0c0c0"/>
<rect x="316" y="528" width="3" height="1" fill="#c0c0c0"/>
<rect x="320" y="525" width="3" height="3" fill="#c0c0c0"/>
<rect x="324" y="522" width="3" height="6" fill="#c0c0c0"/>
<rect x="328" y="520" width="3" height="8" fill="#c0c0c0"/>
<rect x="332" y="519" width="3" height="9" fill="#c0c0c0"/>
<rect x="336" y="519" width="3" height="9" fill="#c0c0c0"/>
<rect x="340" y="518" width="3" height="10" fill="#c0c0c0"/>
<rect x="344" y="517" width="3" height="11" fill="#c0c0c0"/>
<rect x="348" y="515" width="3" height="13" fill="#c0c0c0"/>
<rect x="352" y="514" width="3" height="14" fill="#c0c0c0"/>
<rect x="356" y="514" width="3" height="14" fill="#c0c0c0"/>
<rect x="360" y="514" width="3" height="14" fill="#c0c0c0"/>
<rect x="364" y="517" width="3" height="11" fill="#c0c0c0"/>
<rect x="368" y="519" width="3" height="9" fill="#c0c0c0"/>
<rect x="372" y="519" width="3" height="9" fill="#c0c0c0"/>
<rect x="376" y="522" width="3" height="6" fill="#c0c0c0"/>
<rect x="380" y="522" width="3" height="6" fill="#c0c0c0"/>
<rect x="384" y="521" width="3" height="7" fill="#c0c0c0"/>
<rect x="388" y="516" width="3" height="12" fill="#c0c0c0"/>
<rect x="392" y="513" width="3" height="15" fill="#c0c0c0"/>
<rect x="396" y="510" width="3" height="18" fill="#c0c0c0"/>
<rect x="400" y="509" width="3" height="19" fill="#c0c0c0"/>
<rect x="404" y="513" width="3" height="15" fill="#c0c0c0"/>
<rect x="408" y="517" width="3" height="11" fill="#c0c0c0"/>
<rect x="412" y="518" width="3" height="10" fill="#c0c0c0"/>
<rect x="416" y="518" width="3" height="10" fill="#c0c0c0"/>
<rect x="420" y="519" width="3" height="9" fill="#c0c0c0"/>
<rect x="424" y="520" width="3" height="8" fill="#c0c0c0"/>
<rect x="428" y="521" width="3" height="7" fill="#c0c0c0"/>
<rect x="432" y="522" width="3" height="6" fill="#c0c0c0"/>
<rect x="436" y="524" width="3" height="4" fill="#c0c0c0"/>
<rect x="440" y="526" width="3" height="2" fill="#c0c0c0"/>
<rect x="444" y="527" width="3" height="1" fill="#c0c0c0"/>
<rect x="448" y="528" width="3" height="1" fill="#c0c0c0"/>
<rect x="452" y="528" width="3" height="2" fill="#c0c0c0"/>
<rect x="456" y="528" width="3" height="2" fill="#c0c0c0"/>
<rect x="460" y="528" width="3" height="4" fill="#c0c0c0"/>
<rect x="464" y="528" width="3" height="6" fill="#c0c0c0"/>
<rect x="468" y="528" width="3" height="5" fill="#c0c0c0"/>
<rect x="472" y="528" width="3" height="3" fill="#c0c0c0"/>
<rect x="476" y="528" width="3" height="2" fill="#c0c0c0"/>
<rect x="480" y="528" width="3" height="7" fill="#c0c0c0"/>
<rect x="484" y="528" width="3" height="6" fill="#c0c0c0"/>
<rect x="488" y="528" width="3" height="5" fill="#c0c0c0"/>
<rect x="492" y="528" width="3" height="4" fill="#c0c0c0"/>
<rect x="496" y="528" width="3" height="3" fill="#c0c0c0"/>
<rect x="500" y="528" width="3" height="4" fill="#c0c0c0"/>
<rect x="504" y="528" width="3" height="4" fill="#c0c0c0"/>
<rect x="508" y="528" width="3" height="5" fill="#c0c0c0"/>
<rect x="512" y="528" width="3" height="6" fill="#c0c0c0"/>
<rect x="516" y="528" width="3" height="5" fill="#c0c0c0"/>
<rect x="520" y="528" width="3" height="8" fill="#c0c0c0"/>
<rect x="524" y="528" width="3" height="8" fill="#c0c0c0"/>
<rect x="528" y="528" width="3" height="14" fill="#c0c0c0"/>
<rect x="532" y="528" width="3" height="22" fill="#c0c0c0"/>
<rect x="536" y="528" width="3" height="27" fill="#c0c0c0"/>
<rect x="540" y="528" width="3" height="30" fill="#c0c0c0"/>
<rect x="544" y="528" width="3" height="32" fill="#c0c0c0"/>
<rect x="548" y="528" width="3" height="31" fill="#c0c0c0"/>
<rect x="552" y="528" width="3" height="30" fill="#c0c0c0"/>
<rect x="556" y="528" width="3" height="28" fill="#c0c0c0"/>
<rect x="560" y="528" width="3" height="27" fill="#c0c0c0"/>
<rect x="564" y="528" width="3" height="26" fill="#c0c0c0"/>
<rect x="568" y="528" width="3" height="27" fill="#c0c0c0"/>
<rect x="572" y="528" width="3" height="28" fill="#c0c0c0"/>
<rect x="576" y="528" width="3" height="31" fill="#c0c0c0"/>
<rect x="580" y="528" width="3" height="31" fill="#c0c0c0"/>
<rect x="584" y="528" width="3" height="30" fill="#c0c0c0"/>
<rect x="588" y="528" width="3" height="28" fill="#c0c0c0"/>
<rect x="592" y="528" width="3" height="28" fill="#c0c0c0"/>
<rect x="596" y="528" width="3" height="28" fill="#c0c0c0"/>
<rect x="600" y="528" width="3" height="30" fill="#c0c0c0"/>
<rect x="604" y="528" width="3" height="28" fill="#c0c0c0"/>
<rect x="608" y="528" width="3" height="28" fill="#c0c0c0"/>
<rect x="612" y="528" width="3" height="27" fill="#c0c0c0"/>
<rect x="616" y="528" width="3" height="26" fill="#c0c0c0"/>
<rect x="620" y="528" width="3" height="26" fill="#c0c0c0"/>
<rect x="624" y="528" width="3" height="26" fill="#c0c0c0"/>
<rect x="628" y="528" width="3" height="27" fill="#c0c0c0"/>
<rect x="632" y="528" width="3" height="28" fill="#c0c0c0"/>
<rect x="636" y="528" width="3" height="32" fill="#c0c0c0"/>
<rect x="640" y="528" width="3" height="34" fill="#c0c0c0"/>
<rect x="644" y="528" width="3" height="36" fill="#c0c0c0"/>
<rect x="648" y="528" width="3" height="34" fill="#c0c0c0"/>
<rect x="652" y="528" width="3" height="34" fill="#c0c0c0"/>
<rect x="656" y="528" width="3" height="34" fill="#c0c0c0"/>
<rect x="660" y="528" width="3" height="32" fill="#c0c0c0"/>
<rect x="664" y="528" width="3" height="31" fill="#c0c0c0"/>
<rect x="668" y="528" width="3" height="30" fill="#c0c0c0"/>
<rect x="672" y="528" width="3" height="27" fill="#c0c0c0"/>
<rect x="676" y="528" width="3" height="27" fill="#c0c0c0"/>
<rect x="680" y="528" width="3" height="27" fill="#c0c0c0"/>
<rect x="684" y="528" width="3" height="26" fill="#c0c0c0"/>
<rect x="688" y="528" width="3" height="23" fill="#c0c0c0"/>
<rect x="692" y="528" width="3" height="20" fill="#c0c0c0"/>
<rect x="696" y="528" width="3" height="18" fill="#c0c0c0"/>
<rect x="700" y="528" width="3" height="18" fill="#c0c0c0"/>
<rect x="704" y="528" width="3" height="18" fill="#c0c0c0"/>
<rect x="708" y="528" width="3" height="18" fill="#c0c0c0"/>
<rect x="712" y="528" width="3" height="18" fill="#c0c0c0"/>
<rect x="716" y="528" width="3" height="16" fill="#c0c0c0"/>
<rect x="720" y="528" width="3" height="16" fill="#c0c0c0"/>
<rect x="724" y="528" width="3" height="14" fill="#c0c0c0"/>
<rect x="728" y="528" width="3" height="12" fill="#c0c0c0"/>
<rect x="732" y="528" width="3" height="12" fill="#c0c0c0"/>
<rect x="736" y="528" width="3" height="16" fill="#c0c0c0"/>
<rect x="740" y="528" width="3" height="20" fill="#c0c0c0"/>
<rect x="744" y="528" width="3" height="26" fill="#c0c0c0"/>
<rect x="748" y="528" width="3" height="32" fill="#c0c0c0"/>
<rect x="752" y="528" width="3" height="36" fill="#c0c0c0"/>
<rect x="756" y="528" width="3" height="35" fill="#c0c0c0"/>
<rect x="760" y="528" width="3" height="33" fill="#c0c0c0"/>
<rect x="764" y="528" width="3" height="30" fill="#c0c0c0"/>
<rect x="768" y="528" width="3" height="27" fill="#c0c0c0"/>
<rect x="772" y="528" width="3" height="23" fill="#c0c0c0"/>
<rect x="776" y="528" width="3" height="19" fill="#c0c0c0"/>
<rect x="780" y="528" width="3" height="17" fill="#c0c0c0"/>
<rect x="784" y="528" width="3" height="14" fill="#c0c0c0"/>
<rect x="788" y="528" width="3" height="9" fill="#c0c0c0"/>
<rect x="792" y="528" width="3" height="4" fill="#c0c0c0"/>
<rect x="796" y="525" width="3" height="3" fill="#c0c0c0"/>
<rect x="800" y="519" width="3" height="9" fill="#c0c0c0"/>
<rect x="804" y="516" width="3" height="12" fill="#c0c0c0"/>
<rect x="808" y="516" width="3" height="12" fill="#c0c0c0"/>
<rect x="812" y="517" width="3" height="11" fill="#c0c0c0"/>
<rect x="816" y="517" width="3" height="11" fill="#c0c0c0"/>
<rect x="820" y="518" width="3" height="10" fill="#c0c0c0"/>
<rect x="824" y="520" width="3" height="8" fill="#c0c0c0"/>
<rect x="828" y="521" width="3" height="7" fill="#c0c0c0"/>
<rect x="832" y="523" width="3" height="5" fill="#c0c0c0"/>
<rect x="836" y="525" width="3" height="3" fill="#c0c0c0"/>
<rect x="840" y="527" width="3" height="1" fill="#c0c0c0"/>
<rect x="844" y="528" width="3" height="3" fill="#c0c0c0"/>
<rect x="848" y="528" width="3" height="6" fill="#c0c0c0"/>
<rect x="852" y="528" width="3" height="9" fill="#c0c0c0"/>
<rect x="856" y="528" width="3" height="12" fill="#c0c0c0"/>
<rect x="860" y="528" width="3" height="13" fill="#c0c0c0"/>
<rect x="864" y="528" width="3" height="12" fill="#c0c0c0"/>
<rect x="868" y="528" width="3" height="13" fill="#c0c0c0"/>
<rect x="872" y="528" width="3" height="13" fill="#c0c0c0"/>
<rect x="876" y="528" width="3" height="13" fill="#c0c0c0"/>
<rect x="880" y="528" width="3" height="14" fill="#c0c0c0"/>
<rect x="884" y="528" width="3" height="17" fill="#c0c0c0"/>
<rect x="888" y="528" width="3" height="17" fill="#c0c0c0"/>
<rect x="892" y="528" width="3" height="14" fill="#c0c0c0"/>
<rect x="896" y="528" width="3" height="13" fill="#c0c0c0"/>
<rect x="900" y="528" width="3" height="12" fill="#c0c0c0"/>
<rect x="904" y="528" width="3" height="10" fill="#c0c0c0"/>
<rect x="908" y="528" width="3" height="10" fill="#c0c0c0"/>
<rect x="912" y="528" width="3" height="7" fill="#c0c0c0"/>
<rect x="916" y="528" width="3" height="4" fill="#c0c0c0"/>
<rect x="920" y="528" width="3" height="3" fill="#c0c0c0"/>
<rect x="924" y="528" width="3" height="3" fill="#c0c0c0"/>
<path d="M5 488h2v1h-2zM7 489h1v1h-1zM8 490h2v1h-2zM10 491h2v1h-2zM12 492h2v1h-2zM14 493h2v1h-2zM16 494h2v1h-2zM18 495h3v1h-3zM21 496h2v1h-2zM23 497h2v1h-2zM25 498h2v1h-2zM27 499h2v1h-2zM29 500h2v1h-2zM31 501h2v1h-2zM33 502h2v1h-2zM35 503h2v1h-2zM154 503h11v1h-11zM37 504h2v1h-2zM150 504h4v1h-4zM165 504h3v1h-3zM39 505h3v1h-3zM147 505h3v1h-3zM168 505h2v1h-2zM42 506h3v1h-3zM145 506h2v1h-2zM170 506h2v1h-2zM45 507h2v1h-2zM143 507h2v1h-2zM172 507h1v1h-1zM47 508h3v1h-3zM141 508h2v1h-2zM173 508h1v1h-1zM50 509h3v1h-3zM139 509h2v1h-2zM174 509h2v1h-2zM53 510h2v1h-2zM137 510h2v1h-2zM176 510h1v1h-1zM55 511h2v1h-2zM135 511h2v1h-2zM177 511h1v1h-1zM57 512h2v1h-2zM133 512h2v1h-2zM178 512h1v1h-1zM59 513h3v1h-3zM131 513h2v1h-2zM179 513h1v1h-1zM61 514h2v1h-2zM129 514h2v1h-2zM180 514h1v1h-1zM63 515h1v1h-1zM127 515h2v1h-2zM181 515h1v1h-1zM408 515h21v1h-21zM64 516h1v1h-1zM125 516h2v1h-2zM182 516h1v1h-1zM362 516h15v1h-15zM403 516h5v1h-5zM429 516h3v1h-3zM65 517h2v1h-2zM123 517h2v1h-2zM183 517h1v1h-1zM358 517h4v1h-4zM377 517h5v1h-5zM399 517h4v1h-4zM432 517h3v1h-3zM67 518h1v1h-1zM121 518h2v1h-2zM184 518h2v1h-2zM353 518h5v1h-5zM382 518h17v1h-17zM435 518h2v1h-2zM830 518h6v1h-6zM68 519h1v1h-1zM119 519h2v1h-2zM186 519h1v1h-1zM350 519h3v1h-3zM437 519h3v1h-3zM826 519h4v1h-4zM836 519h4v1h-4zM69 520h2v1h-2zM117 520h2v1h-2zM187 520h1v1h-1zM347 520h3v1h-3zM440 520h2v1h-2zM823 520h3v1h-3zM840 520h4v1h-4zM71 521h1v1h-1zM115 521h2v1h-2zM188 521h2v1h-2zM345 521h2v1h-2zM442 521h3v1h-3zM822 521h1v1h-1zM844 521h3v1h-3zM72 522h2v1h-2zM113 522h2v1h-2zM190 522h1v1h-1zM343 522h2v1h-2zM445 522h3v1h-3zM820 522h2v1h-2zM847 522h3v1h-3zM74 523h1v1h-1zM111 523h2v1h-2zM191 523h2v1h-2zM341 523h2v1h-2zM448 523h5v1h-5zM818 523h2v1h-2zM850 523h1v1h-1zM75 524h2v1h-2zM109 524h2v1h-2zM193 524h1v1h-1zM340 524h1v1h-1zM453 524h4v1h-4zM817 524h1v1h-1zM851 524h1v1h-1zM77 525h1v1h-1zM107 525h2v1h-2zM194 525h2v1h-2zM338 525h2v1h-2zM457 525h4v1h-4zM815 525h2v1h-2zM852 525h2v1h-2zM78 526h2v1h-2zM106 526h1v1h-1zM196 526h1v1h-1zM337 526h1v1h-1zM461 526h2v1h-2zM814 526h1v1h-1zM854 526h1v1h-1zM80 527h1v1h-1zM104 527h2v1h-2zM197 527h2v1h-2zM335 527h2v1h-2zM463 527h2v1h-2zM813 527h1v1h-1zM855 527h2v1h-2zM81 528h4v1h-4zM101 528h3v1h-3zM199 528h2v1h-2zM334 528h1v1h-1zM465 528h3v1h-3zM811 528h2v1h-2zM857 528h1v1h-1zM85 529h4v1h-4zM99 529h2v1h-2zM201 529h2v1h-2zM332 529h2v1h-2zM468 529h4v1h-4zM810 529h1v1h-1zM858 529h2v1h-2zM89 530h10v1h-10zM203 530h1v1h-1zM330 530h2v1h-2zM472 530h7v1h-7zM809 530h1v1h-1zM860 530h3v1h-3zM204 531h4v1h-4zM223 531h13v1h-13zM328 531h2v1h-2zM479 531h7v1h-7zM503 531h9v1h-9zM808 531h1v1h-1zM863 531h2v1h-2zM208 532h15v1h-15zM236 532h5v1h-5zM327 532h1v1h-1zM486 532h17v1h-17zM512 532h17v1h-17zM806 532h2v1h-2zM865 532h2v1h-2zM241 533h3v1h-3zM325 533h2v1h-2zM529 533h2v1h-2zM805 533h1v1h-1zM867 533h2v1h-2zM244 534h2v1h-2zM323 534h2v1h-2zM531 534h2v1h-2zM804 534h1v1h-1zM869 534h2v1h-2zM246 535h2v1h-2zM322 535h1v1h-1zM533 535h1v1h-1zM804 535h1v1h-1zM871 535h3v1h-3zM248 536h3v1h-3zM320 536h2v1h-2zM534 536h2v1h-2zM803 536h1v1h-1zM874 536h2v1h-2zM923 536h2v1h-2zM250 537h3v1h-3zM319 537h1v1h-1zM536 537h1v1h-1zM802 537h1v1h-1zM876 537h2v1h-2zM920 537h3v1h-3zM253 538h2v1h-2zM317 538h2v1h-2zM537 538h1v1h-1zM801 538h1v1h-1zM878 538h3v1h-3zM917 538h3v1h-3zM255 539h2v1h-2zM314 539h4v1h-4zM538 539h2v1h-2zM800 539h1v1h-1zM881 539h4v1h-4zM914 539h3v1h-3zM257 540h1v1h-1zM310 540h4v1h-4zM540 540h1v1h-1zM799 540h1v1h-1zM885 540h11v1h-11zM910 540h4v1h-4zM258 541h2v1h-2zM307 541h3v1h-3zM541 541h1v1h-1zM798 541h1v1h-1zM896 541h14v1h-14zM260 542h2v1h-2zM305 542h2v1h-2zM542 542h2v1h-2zM797 542h1v1h-1zM262 543h2v1h-2zM303 543h2v1h-2zM544 543h1v1h-1zM729 543h16v1h-16zM796 543h1v1h-1zM264 544h3v1h-3zM301 544h2v1h-2zM545 544h1v1h-1zM726 544h3v1h-3zM745 544h2v1h-2zM795 544h1v1h-1zM267 545h2v1h-2zM297 545h4v1h-4zM546 545h2v1h-2zM722 545h4v1h-4zM747 545h2v1h-2zM794 545h1v1h-1zM269 546h4v1h-4zM289 546h8v1h-8zM548 546h1v1h-1zM718 546h4v1h-4zM749 546h2v1h-2zM793 546h1v1h-1zM273 547h4v1h-4zM283 547h6v1h-6zM549 547h2v1h-2zM715 547h3v1h-3zM751 547h2v1h-2zM792 547h2v1h-2zM277 548h6v1h-6zM551 548h1v1h-1zM710 548h5v1h-5zM753 548h2v1h-2zM791 548h1v1h-1zM552 549h2v1h-2zM706 549h4v1h-4zM755 549h2v1h-2zM790 549h1v1h-1zM554 550h2v1h-2zM702 550h4v1h-4zM757 550h2v1h-2zM788 550h2v1h-2zM556 551h1v1h-1zM699 551h3v1h-3zM759 551h2v1h-2zM787 551h1v1h-1zM557 552h2v1h-2zM696 552h3v1h-3zM761 552h2v1h-2zM785 552h2v1h-2zM559 553h3v1h-3zM693 553h3v1h-3zM763 553h2v1h-2zM784 553h1v1h-1zM562 554h3v1h-3zM691 554h2v1h-2zM765 554h2v1h-2zM781 554h3v1h-3zM565 555h3v1h-3zM587 555h9v1h-9zM615 555h25v1h-25zM688 555h3v1h-3zM767 555h2v1h-2zM779 555h2v1h-2zM568 556h19v1h-19zM596 556h19v1h-19zM640 556h8v1h-8zM685 556h3v1h-3zM769 556h10v1h-10zM648 557h3v1h-3zM683 557h2v1h-2zM651 558h4v1h-4zM679 558h4v1h-4zM655 559h4v1h-4zM675 559h4v1h-4zM659 560h16v1h-16z" fill="#ff0000" />
<line x1="5" y1="596.5" x2="1167" y2="596.5" stroke="#c0c0c0" stroke-width="1" stroke-dasharray="3,3" stroke-dashoffset="4"/>
<line x1="5" y1="631.5" x2="1167" y2="631.5" stroke="#c0c0c0" stroke-width="1" stroke-dasharray="3,3" stroke-dashoffset="4"/>
<path d="M144 592h2v1h-2zM142 593h2v1h-2zM145 593h1v1h-1zM139 594h3v1h-3zM145 594h1v1h-1zM133 595h6v1h-6zM145 595h1v1h-1zM131 596h2v1h-2zM146 596h1v1h-1zM130 597h1v1h-1zM146 597h1v1h-1zM125 598h5v1h-5zM146 598h1v1h-1zM125 599h1v1h-1zM146 599h1v1h-1zM124 600h1v1h-1zM146 600h1v1h-1zM797 600h5v1h-5zM124 601h1v1h-1zM146 601h1v1h-1zM349 601h1v1h-1zM389 601h2v1h-2zM396 601h2v1h-2zM796 601h2v1h-2zM802 601h1v1h-1zM108 602h4v1h-4zM124 602h1v1h-1zM146 602h1v1h-1zM348 602h1v1h-1zM350 602h1v1h-1zM388 602h1v1h-1zM391 602h2v1h-2zM394 602h2v1h-2zM398 602h1v1h-1zM795 602h1v1h-1zM803 602h2v1h-2zM107 603h1v1h-1zM112 603h2v1h-2zM123 603h1v1h-1zM147 603h1v1h-1zM347 603h1v1h-1zM351 603h1v1h-1zM388 603h1v1h-1zM393 603h1v1h-1zM399 603h1v1h-1zM794 603h1v1h-1zM805 603h1v1h-1zM24 604h2v1h-2zM97 604h3v1h-3zM106 604h1v1h-1zM113 604h1v1h-1zM123 604h1v1h-1zM147 604h1v1h-1zM312 604h3v1h-3zM324 604h3v1h-3zM346 604h1v1h-1zM352 604h1v1h-1zM387 604h1v1h-1zM400 604h1v1h-1zM793 604h1v1h-1zM806 604h1v1h-1zM22 605h2v1h-2zM26 605h1v1h-1zM95 605h2v1h-2zM100 605h6v1h-6zM114 605h1v1h-1zM123 605h1v1h-1zM147 605h1v1h-1zM309 605h3v1h-3zM315 605h1v1h-1zM323 605h1v1h-1zM327 605h1v1h-1zM331 605h3v1h-3zM346 605h1v1h-1zM353 605h5v1h-5zM387 605h1v1h-1zM401 605h1v1h-1zM791 605h2v1h-2zM807 605h1v1h-1zM20 606h2v1h-2zM27 606h1v1h-1zM91 606h4v1h-4zM115 606h1v1h-1zM122 606h1v1h-1zM147 606h1v1h-1zM309 606h1v1h-1zM316 606h7v1h-7zM328 606h3v1h-3zM334 606h1v1h-1zM344 606h2v1h-2zM357 606h2v1h-2zM386 606h1v1h-1zM401 606h1v1h-1zM790 606h1v1h-1zM807 606h1v1h-1zM19 607h1v1h-1zM28 607h1v1h-1zM41 607h1v1h-1zM88 607h3v1h-3zM116 607h1v1h-1zM122 607h1v1h-1zM147 607h1v1h-1zM309 607h1v1h-1zM335 607h1v1h-1zM342 607h2v1h-2zM359 607h2v1h-2zM386 607h1v1h-1zM402 607h1v1h-1zM789 607h1v1h-1zM808 607h1v1h-1zM5 608h6v1h-6zM17 608h2v1h-2zM29 608h1v1h-1zM40 608h1v1h-1zM42 608h1v1h-1zM86 608h2v1h-2zM116 608h1v1h-1zM122 608h1v1h-1zM147 608h1v1h-1zM308 608h1v1h-1zM336 608h1v1h-1zM340 608h2v1h-2zM361 608h1v1h-1zM385 608h1v1h-1zM402 608h1v1h-1zM788 608h1v1h-1zM809 608h1v1h-1zM11 609h1v1h-1zM16 609h1v1h-1zM29 609h6v1h-6zM39 609h1v1h-1zM43 609h1v1h-1zM85 609h1v1h-1zM117 609h5v1h-5zM147 609h1v1h-1zM308 609h1v1h-1zM337 609h3v1h-3zM362 609h1v1h-1zM373 609h1v1h-1zM384 609h2v1h-2zM403 609h1v1h-1zM788 609h1v1h-1zM810 609h2v1h-2zM12 610h4v1h-4zM35 610h2v1h-2zM38 610h1v1h-1zM43 610h1v1h-1zM84 610h1v1h-1zM148 610h1v1h-1zM161 610h2v1h-2zM217 610h1v1h-1zM308 610h1v1h-1zM363 610h1v1h-1zM372 610h1v1h-1zM374 610h1v1h-1zM382 610h2v1h-2zM403 610h1v1h-1zM787 610h1v1h-1zM812 610h7v1h-7zM913 610h3v1h-3zM14 611h1v1h-1zM37 611h1v1h-1zM44 611h1v1h-1zM83 611h1v1h-1zM148 611h1v1h-1zM159 611h2v1h-2zM163 611h2v1h-2zM216 611h1v1h-1zM218 611h1v1h-1zM307 611h1v1h-1zM363 611h1v1h-1zM372 611h1v1h-1zM374 611h1v1h-1zM381 611h1v1h-1zM403 611h1v1h-1zM415 611h4v1h-4zM423 611h3v1h-3zM473 611h3v1h-3zM491 611h3v1h-3zM786 611h1v1h-1zM814 611h1v1h-1zM819 611h2v1h-2zM827 611h3v1h-3zM912 611h1v1h-1zM916 611h7v1h-7zM45 612h1v1h-1zM82 612h1v1h-1zM148 612h1v1h-1zM158 612h1v1h-1zM165 612h5v1h-5zM193 612h2v1h-2zM216 612h1v1h-1zM219 612h1v1h-1zM307 612h1v1h-1zM364 612h1v1h-1zM371 612h1v1h-1zM374 612h1v1h-1zM380 612h1v1h-1zM404 612h1v1h-1zM413 612h2v1h-2zM419 612h2v1h-2zM422 612h1v1h-1zM426 612h2v1h-2zM432 612h2v1h-2zM471 612h2v1h-2zM476 612h1v1h-1zM490 612h1v1h-1zM494 612h2v1h-2zM505 612h1v1h-1zM786 612h1v1h-1zM821 612h6v1h-6zM830 612h1v1h-1zM904 612h2v1h-2zM912 612h1v1h-1zM923 612h2v1h-2zM45 613h2v1h-2zM80 613h2v1h-2zM148 613h1v1h-1zM157 613h1v1h-1zM169 613h1v1h-1zM192 613h1v1h-1zM195 613h1v1h-1zM199 613h3v1h-3zM215 613h1v1h-1zM220 613h1v1h-1zM307 613h1v1h-1zM365 613h1v1h-1zM371 613h1v1h-1zM375 613h1v1h-1zM380 613h1v1h-1zM404 613h1v1h-1zM412 613h1v1h-1zM421 613h1v1h-1zM428 613h1v1h-1zM430 613h2v1h-2zM434 613h1v1h-1zM470 613h1v1h-1zM477 613h1v1h-1zM485 613h5v1h-5zM496 613h1v1h-1zM503 613h2v1h-2zM506 613h1v1h-1zM773 613h7v1h-7zM782 613h4v1h-4zM831 613h1v1h-1zM902 613h2v1h-2zM906 613h1v1h-1zM911 613h1v1h-1zM47 614h2v1h-2zM77 614h3v1h-3zM148 614h1v1h-1zM156 614h1v1h-1zM170 614h1v1h-1zM191 614h1v1h-1zM196 614h3v1h-3zM202 614h3v1h-3zM207 614h4v1h-4zM215 614h1v1h-1zM221 614h9v1h-9zM306 614h1v1h-1zM365 614h2v1h-2zM370 614h1v1h-1zM375 614h1v1h-1zM379 614h1v1h-1zM405 614h1v1h-1zM411 614h1v1h-1zM429 614h1v1h-1zM435 614h1v1h-1zM469 614h1v1h-1zM477 614h1v1h-1zM485 614h1v1h-1zM497 614h3v1h-3zM502 614h1v1h-1zM506 614h1v1h-1zM697 614h1v1h-1zM772 614h1v1h-1zM780 614h2v1h-2zM832 614h1v1h-1zM900 614h2v1h-2zM906 614h1v1h-1zM911 614h1v1h-1zM49 615h6v1h-6zM77 615h1v1h-1zM148 615h1v1h-1zM155 615h1v1h-1zM170 615h1v1h-1zM191 615h1v1h-1zM205 615h2v1h-2zM211 615h1v1h-1zM214 615h1v1h-1zM230 615h1v1h-1zM277 615h5v1h-5zM306 615h1v1h-1zM367 615h2v1h-2zM370 615h1v1h-1zM376 615h1v1h-1zM378 615h1v1h-1zM406 615h2v1h-2zM410 615h1v1h-1zM436 615h1v1h-1zM443 615h14v1h-14zM468 615h1v1h-1zM478 615h1v1h-1zM484 615h1v1h-1zM500 615h2v1h-2zM507 615h1v1h-1zM696 615h1v1h-1zM698 615h1v1h-1zM725 615h4v1h-4zM771 615h1v1h-1zM832 615h1v1h-1zM898 615h2v1h-2zM907 615h1v1h-1zM910 615h1v1h-1zM55 616h1v1h-1zM76 616h1v1h-1zM149 616h1v1h-1zM154 616h1v1h-1zM171 616h1v1h-1zM190 616h1v1h-1zM212 616h2v1h-2zM231 616h1v1h-1zM276 616h1v1h-1zM282 616h2v1h-2zM306 616h1v1h-1zM369 616h1v1h-1zM376 616h1v1h-1zM378 616h1v1h-1zM408 616h2v1h-2zM437 616h6v1h-6zM457 616h1v1h-1zM467 616h1v1h-1zM478 616h1v1h-1zM484 616h1v1h-1zM508 616h1v1h-1zM514 616h4v1h-4zM525 616h1v1h-1zM695 616h1v1h-1zM698 616h1v1h-1zM724 616h1v1h-1zM729 616h1v1h-1zM771 616h1v1h-1zM833 616h3v1h-3zM865 616h1v1h-1zM893 616h5v1h-5zM908 616h2v1h-2zM56 617h1v1h-1zM75 617h1v1h-1zM150 617h1v1h-1zM154 617h1v1h-1zM171 617h1v1h-1zM187 617h3v1h-3zM213 617h1v1h-1zM231 617h1v1h-1zM276 617h1v1h-1zM284 617h1v1h-1zM288 617h4v1h-4zM305 617h1v1h-1zM377 617h1v1h-1zM458 617h2v1h-2zM467 617h1v1h-1zM479 617h1v1h-1zM484 617h1v1h-1zM508 617h1v1h-1zM511 617h3v1h-3zM518 617h1v1h-1zM524 617h1v1h-1zM526 617h1v1h-1zM694 617h1v1h-1zM699 617h1v1h-1zM717 617h1v1h-1zM723 617h1v1h-1zM730 617h1v1h-1zM770 617h1v1h-1zM836 617h2v1h-2zM864 617h1v1h-1zM866 617h1v1h-1zM877 617h1v1h-1zM892 617h1v1h-1zM909 617h1v1h-1zM57 618h2v1h-2zM75 618h1v1h-1zM151 618h3v1h-3zM172 618h1v1h-1zM185 618h2v1h-2zM232 618h1v1h-1zM275 618h1v1h-1zM285 618h3v1h-3zM292 618h7v1h-7zM303 618h3v1h-3zM460 618h2v1h-2zM466 618h1v1h-1zM479 618h1v1h-1zM483 618h1v1h-1zM509 618h2v1h-2zM519 618h1v1h-1zM523 618h1v1h-1zM526 618h1v1h-1zM689 618h5v1h-5zM700 618h1v1h-1zM716 618h1v1h-1zM718 618h2v1h-2zM723 618h1v1h-1zM731 618h1v1h-1zM762 618h6v1h-6zM769 618h1v1h-1zM838 618h1v1h-1zM864 618h1v1h-1zM867 618h1v1h-1zM876 618h1v1h-1zM878 618h1v1h-1zM891 618h1v1h-1zM59 619h3v1h-3zM69 619h2v1h-2zM74 619h1v1h-1zM153 619h1v1h-1zM172 619h1v1h-1zM175 619h3v1h-3zM183 619h2v1h-2zM233 619h1v1h-1zM252 619h2v1h-2zM275 619h1v1h-1zM299 619h4v1h-4zM462 619h4v1h-4zM479 619h1v1h-1zM483 619h1v1h-1zM520 619h1v1h-1zM522 619h1v1h-1zM526 619h1v1h-1zM556 619h6v1h-6zM673 619h1v1h-1zM687 619h2v1h-2zM700 619h1v1h-1zM715 619h1v1h-1zM720 619h1v1h-1zM722 619h1v1h-1zM732 619h2v1h-2zM761 619h1v1h-1zM768 619h2v1h-2zM839 619h1v1h-1zM863 619h1v1h-1zM867 619h1v1h-1zM875 619h1v1h-1zM879 619h1v1h-1zM891 619h1v1h-1zM62 620h1v1h-1zM68 620h1v1h-1zM71 620h2v1h-2zM74 620h1v1h-1zM173 620h2v1h-2zM178 620h2v1h-2zM182 620h1v1h-1zM234 620h1v1h-1zM250 620h2v1h-2zM254 620h1v1h-1zM268 620h3v1h-3zM274 620h1v1h-1zM480 620h1v1h-1zM482 620h1v1h-1zM521 620h1v1h-1zM527 620h1v1h-1zM549 620h2v1h-2zM554 620h2v1h-2zM562 620h2v1h-2zM673 620h2v1h-2zM686 620h1v1h-1zM701 620h3v1h-3zM714 620h1v1h-1zM721 620h1v1h-1zM733 620h1v1h-1zM760 620h1v1h-1zM840 620h1v1h-1zM862 620h1v1h-1zM868 620h1v1h-1zM874 620h1v1h-1zM880 620h1v1h-1zM890 620h1v1h-1zM63 621h1v1h-1zM67 621h1v1h-1zM73 621h1v1h-1zM173 621h1v1h-1zM180 621h2v1h-2zM235 621h1v1h-1zM245 621h5v1h-5zM255 621h2v1h-2zM260 621h3v1h-3zM266 621h2v1h-2zM271 621h2v1h-2zM274 621h1v1h-1zM480 621h1v1h-1zM482 621h1v1h-1zM527 621h1v1h-1zM548 621h1v1h-1zM551 621h3v1h-3zM564 621h2v1h-2zM585 621h5v1h-5zM608 621h7v1h-7zM672 621h1v1h-1zM675 621h1v1h-1zM685 621h1v1h-1zM704 621h3v1h-3zM712 621h2v1h-2zM734 621h1v1h-1zM759 621h1v1h-1zM841 621h3v1h-3zM862 621h1v1h-1zM869 621h5v1h-5zM881 621h1v1h-1zM889 621h1v1h-1zM64 622h1v1h-1zM67 622h1v1h-1zM236 622h1v1h-1zM244 622h1v1h-1zM257 622h3v1h-3zM263 622h3v1h-3zM273 622h1v1h-1zM480 622h1v1h-1zM482 622h1v1h-1zM527 622h1v1h-1zM548 622h1v1h-1zM566 622h1v1h-1zM584 622h1v1h-1zM590 622h2v1h-2zM606 622h2v1h-2zM615 622h2v1h-2zM672 622h1v1h-1zM676 622h1v1h-1zM684 622h1v1h-1zM707 622h5v1h-5zM734 622h1v1h-1zM759 622h1v1h-1zM844 622h4v1h-4zM861 622h1v1h-1zM881 622h1v1h-1zM889 622h1v1h-1zM64 623h1v1h-1zM66 623h1v1h-1zM237 623h1v1h-1zM244 623h1v1h-1zM481 623h1v1h-1zM528 623h1v1h-1zM547 623h1v1h-1zM567 623h1v1h-1zM583 623h1v1h-1zM592 623h1v1h-1zM605 623h1v1h-1zM617 623h5v1h-5zM671 623h1v1h-1zM676 623h1v1h-1zM683 623h1v1h-1zM735 623h1v1h-1zM758 623h1v1h-1zM848 623h2v1h-2zM860 623h1v1h-1zM882 623h1v1h-1zM888 623h1v1h-1zM65 624h1v1h-1zM238 624h1v1h-1zM243 624h1v1h-1zM481 624h1v1h-1zM528 624h1v1h-1zM547 624h1v1h-1zM568 624h1v1h-1zM582 624h1v1h-1zM593 624h3v1h-3zM604 624h1v1h-1zM622 624h2v1h-2zM661 624h2v1h-2zM671 624h1v1h-1zM677 624h3v1h-3zM682 624h1v1h-1zM735 624h1v1h-1zM757 624h1v1h-1zM850 624h2v1h-2zM859 624h1v1h-1zM883 624h1v1h-1zM887 624h1v1h-1zM239 625h1v1h-1zM242 625h1v1h-1zM528 625h1v1h-1zM546 625h1v1h-1zM569 625h2v1h-2zM581 625h1v1h-1zM596 625h2v1h-2zM603 625h1v1h-1zM624 625h1v1h-1zM660 625h1v1h-1zM663 625h2v1h-2zM670 625h1v1h-1zM680 625h2v1h-2zM736 625h1v1h-1zM757 625h1v1h-1zM852 625h4v1h-4zM858 625h1v1h-1zM884 625h1v1h-1zM886 625h1v1h-1zM240 626h1v1h-1zM242 626h1v1h-1zM528 626h1v1h-1zM546 626h1v1h-1zM571 626h3v1h-3zM580 626h1v1h-1zM598 626h1v1h-1zM603 626h1v1h-1zM625 626h1v1h-1zM659 626h1v1h-1zM665 626h2v1h-2zM670 626h1v1h-1zM736 626h1v1h-1zM756 626h1v1h-1zM856 626h2v1h-2zM884 626h1v1h-1zM886 626h1v1h-1zM241 627h1v1h-1zM529 627h1v1h-1zM541 627h5v1h-5zM574 627h1v1h-1zM579 627h1v1h-1zM599 627h2v1h-2zM602 627h1v1h-1zM626 627h2v1h-2zM658 627h1v1h-1zM667 627h3v1h-3zM737 627h1v1h-1zM756 627h1v1h-1zM885 627h1v1h-1zM529 628h1v1h-1zM540 628h1v1h-1zM575 628h2v1h-2zM578 628h1v1h-1zM601 628h1v1h-1zM628 628h1v1h-1zM647 628h11v1h-11zM669 628h1v1h-1zM737 628h2v1h-2zM756 628h1v1h-1zM530 629h2v1h-2zM539 629h1v1h-1zM577 629h1v1h-1zM629 629h5v1h-5zM645 629h2v1h-2zM739 629h2v1h-2zM755 629h1v1h-1zM532 630h1v1h-1zM538 630h1v1h-1zM634 630h1v1h-1zM644 630h1v1h-1zM741 630h1v1h-1zM755 630h1v1h-1zM533 631h5v1h-5zM635 631h1v1h-1zM643 631h1v1h-1zM742 631h1v1h-1zM754 631h1v1h-1zM635 632h1v1h-1zM643 632h1v1h-1zM743 632h1v1h-1zM754 632h1v1h-1zM636 633h1v1h-1zM642 633h1v1h-1zM744 633h1v1h-1zM754 633h1v1h-1zM637 634h2v1h-2zM642 634h1v1h-1zM745 634h2v1h-2zM753 634h1v1h-1zM639 635h3v1h-3zM747 635h2v1h-2zM751 635h3v1h-3zM749 636h2v1h-2z" fill="#1e90ff" />
</g>
<g shape-rendering="crispEdges">
<rect x="1168" y="49" width="2" height="1" fill="#000"/>
<rect x="1168" y="82" width="2" height="1" fill="#000"/>
<rect x="1168" y="115" width="2" height="1" fill="#000"/>
<rect x="1168" y="148" width="2" height="1" fill="#000"/>
<rect x="1168" y="181" width="2" height="1" fill="#000"/>
<rect x="1168" y="214" width="2" height="1" fill="#000"/>
<rect x="1168" y="247" width="2" height="1" fill="#000"/>
<rect x="1168" y="280" width="2" height="1" fill="#000"/>
<rect x="1168" y="313" width="2" height="1" fill="#000"/>
<rect x="1168" y="346" width="2" height="1" fill="#000"/>
<rect x="1168" y="379" width="2" height="1" fill="#000"/>
<rect x="1168" y="412" width="2" height="1" fill="#000"/>
<rect x="1168" y="445" width="2" height="1" fill="#000"/>
<rect x="1168" y="478" width="2" height="1" fill="#000"/>
<rect x="1168" y="528" width="2" height="1" fill="#000"/>
<rect x="5" y="658" width="1" height="2" fill="#000"/>
<rect x="69" y="658" width="1" height="2" fill="#000"/>
<rect x="133" y="658" width="1" height="2" fill="#000"/>
<rect x="197" y="658" width="1" height="2" fill="#000"/>
<rect x="261" y="658" width="1" height="2" fill="#000"/>
<rect x="325" y="658" width="1" height="2" fill="#000"/>
<rect x="389" y="658" width="1" height="2" fill="#000"/>
<rect x="453" y="658" width="1" height="2" fill="#000"/>
<rect x="517" y="658" width="1" height="2" fill="#000"/>
<rect x="581" y="658" width="1" height="2" fill="#000"/>
<rect x="645" y="658" width="1" height="2" fill="#000"/>
<rect x="709" y="658" width="1" height="2" fill="#000"/>
<rect x="773" y="658" width="1" height="2" fill="#000"/>
<rect x="837" y="658" width="1" height="2" fill="#000"/>
<rect x="901" y="658" width="1" height="2" fill="#000"/>
</g>
<g class="ax">
<text x="1173" y="53" textLength="33" lengthAdjust="spacingAndGlyphs">0.79960</text>
<text x="1173" y="86" textLength="33" lengthAdjust="spacingAndGlyphs">0.79260</text>
<text x="1173" y="119" textLength="33" lengthAdjust="spacingAndGlyphs">0.78560</text>
<text x="1173" y="152" textLength="33" lengthAdjust="spacingAndGlyphs">0.77860</text>
<text x="1173" y="185" textLength="33" lengthAdjust="spacingAndGlyphs">0.77160</text>
<text x="1173" y="218" textLength="33" lengthAdjust="spacingAndGlyphs">0.76460</text>
<text x="1173" y="251" textLength="33" lengthAdjust="spacingAndGlyphs">0.75760</text>
<text x="1173" y="284" textLength="33" lengthAdjust="spacingAndGlyphs">0.75060</text>
<text x="1173" y="317" textLength="33" lengthAdjust="spacingAndGlyphs">0.74360</text>
<text x="1173" y="350" textLength="33" lengthAdjust="spacingAndGlyphs">0.73660</text>
<text x="1173" y="383" textLength="33" lengthAdjust="spacingAndGlyphs">0.72960</text>
<text x="1173" y="416" textLength="33" lengthAdjust="spacingAndGlyphs">0.72280</text>
<text x="1173" y="449" textLength="33" lengthAdjust="spacingAndGlyphs">0.71580</text>
<text x="1173" y="482" textLength="33" lengthAdjust="spacingAndGlyphs">0.70880</text>
<text x="1171" y="495" textLength="38" lengthAdjust="spacingAndGlyphs">0.008014</text>
<text x="1171" y="532" textLength="19" lengthAdjust="spacingAndGlyphs">0.00</text>
<text x="1171" y="565" textLength="36" lengthAdjust="spacingAndGlyphs">-0.00697</text>
<text x="1171" y="580" textLength="15" lengthAdjust="spacingAndGlyphs">100</text>
<text x="1171" y="601" textLength="10" lengthAdjust="spacingAndGlyphs">70</text>
<text x="1171" y="635" textLength="10" lengthAdjust="spacingAndGlyphs">30</text>
<text x="1171" y="654" textLength="5" lengthAdjust="spacingAndGlyphs">0</text>
<text x="4.5" y="670" textLength="49" lengthAdjust="spacingAndGlyphs">15 Jan 2021</text>
<text x="68.5" y="670" textLength="46" lengthAdjust="spacingAndGlyphs">3 Feb 2021</text>
<text x="132.5" y="670" textLength="50.5" lengthAdjust="spacingAndGlyphs">22 Feb 2021</text>
<text x="196.5" y="670" textLength="51" lengthAdjust="spacingAndGlyphs">12 Mar 2021</text>
<text x="260.5" y="670" textLength="51" lengthAdjust="spacingAndGlyphs">31 Mar 2021</text>
<text x="324.5" y="670" textLength="49.5" lengthAdjust="spacingAndGlyphs">19 Apr 2021</text>
<text x="388.5" y="670" textLength="49" lengthAdjust="spacingAndGlyphs">7 May 2021</text>
<text x="452.5" y="670" textLength="54" lengthAdjust="spacingAndGlyphs">26 May 2021</text>
<text x="516.5" y="670" textLength="48.5" lengthAdjust="spacingAndGlyphs">14 Jun 2021</text>
<text x="580.5" y="670" textLength="41.5" lengthAdjust="spacingAndGlyphs">2 Jul 2021</text>
<text x="644.5" y="670" textLength="46.5" lengthAdjust="spacingAndGlyphs">21 Jul 2021</text>
<text x="708.5" y="670" textLength="47.5" lengthAdjust="spacingAndGlyphs">9 Aug 2021</text>
<text x="772.5" y="670" textLength="51.5" lengthAdjust="spacingAndGlyphs">27 Aug 2021</text>
<text x="836.5" y="670" textLength="51" lengthAdjust="spacingAndGlyphs">15 Sep 2021</text>
<text x="900.5" y="670" textLength="45" lengthAdjust="spacingAndGlyphs">4 Oct 2021</text>
<text x="20.5" y="33" font-size="9.6" textLength="65.5" lengthAdjust="spacingAndGlyphs">AUDUSD,Daily</text>
<text x="92.4" y="33" textLength="32.5" lengthAdjust="spacingAndGlyphs">0.73020</text>
<text x="128.2" y="33" textLength="32.5" lengthAdjust="spacingAndGlyphs">0.73034</text>
<text x="164" y="33" textLength="32.5" lengthAdjust="spacingAndGlyphs">0.72913</text>
<text x="200.2" y="33" textLength="32.5" lengthAdjust="spacingAndGlyphs">0.72925</text>
<text x="10" y="496" textLength="65" lengthAdjust="spacingAndGlyphs">MACD(12,26,9)</text>
<text x="78.4" y="496" textLength="40" lengthAdjust="spacingAndGlyphs">-0.000291</text>
<text x="122.5" y="496" textLength="40.5" lengthAdjust="spacingAndGlyphs">-0.001388</text>
<text x="9.5" y="582" textLength="31" lengthAdjust="spacingAndGlyphs">RSI(14)</text>
<text x="44.4" y="582" textLength="32.6" lengthAdjust="spacingAndGlyphs">50.4685</text>
</g>
<path d="M8 32 L11.5 28 L15 32 Z" fill="#000"/>
<g shape-rendering="crispEdges">
<rect x="1169" y="173" width="39" height="11" fill="#ff0000"/>
<text class="lb" x="1173" y="182" textLength="33" lengthAdjust="spacingAndGlyphs" shape-rendering="auto">0.77200</text>
<rect x="1169" y="243" width="39" height="11" fill="#ff0000"/>
<text class="lb" x="1173" y="252" textLength="33" lengthAdjust="spacingAndGlyphs" shape-rendering="auto">0.75716</text>
<rect x="1169" y="324" width="39" height="11" fill="#00ff00"/>
<text class="lb" x="1173" y="333" textLength="33" lengthAdjust="spacingAndGlyphs" shape-rendering="auto">0.74007</text>
<rect x="1169" y="376" width="39" height="11" fill="#000000"/>
<text class="lb" x="1173" y="385" textLength="33" lengthAdjust="spacingAndGlyphs" shape-rendering="auto">0.72925</text>
<rect x="1169" y="399" width="39" height="11" fill="#0000ff"/>
<text class="lb" x="1173" y="408" textLength="33" lengthAdjust="spacingAndGlyphs" shape-rendering="auto">0.72411</text>
<rect x="1169" y="470" width="39" height="11" fill="#0000ff"/>
<text class="lb" x="1173" y="479" textLength="33" lengthAdjust="spacingAndGlyphs" shape-rendering="auto">0.70936</text>
<rect x="1169" y="474" width="39" height="11" fill="#ff0000"/>
<text class="lb" x="1173" y="483" textLength="33" lengthAdjust="spacingAndGlyphs" shape-rendering="auto">0.70820</text>
<rect x="1168" y="381" width="2" height="1" fill="#000"/>
</g>
<g shape-rendering="crispEdges">
<rect x="60" y="41" width="115" height="24" fill="#fff"/><rect x="117" y="65" width="2" height="33" fill="#fff"/>
<path d="M8 41H60V65H117V98H8Z" fill="#0000a0"/><path d="M9 42H59V66H116V97H9Z" fill="url(#bg)"/>
<path d="M175 41H227V98H119V65H175Z" fill="#0000a0"/><path d="M176 42H226V97H120V66H176Z" fill="url(#bg)"/>
<rect x="12" y="64" width="44" height="1" fill="#000090"/><rect x="12" y="65" width="44" height="1" fill="#7878ff"/>
<rect x="179" y="64" width="44" height="1" fill="#000090"/><rect x="179" y="65" width="44" height="1" fill="#7878ff"/>
<rect x="62" y="41" width="111" height="22" fill="#b4b4b4"/><rect x="63" y="42" width="109" height="20" fill="#fff"/>
<rect x="63" y="42" width="20" height="20" fill="url(#sp)"/><rect x="83" y="42" width="1" height="20" fill="#b4b4b4"/>
<rect x="152" y="42" width="20" height="20" fill="url(#sp)"/><rect x="151" y="42" width="1" height="20" fill="#b4b4b4"/>
</g>
<path d="M69.5 50 H76 L72.75 53.5 Z" fill="#5a6ac0"/><path d="M158.5 53.5 H165 L161.75 50 Z" fill="#5a6ac0"/>
<text x="124" y="56" font-size="12.5" fill="#000" textLength="24" lengthAdjust="spacingAndGlyphs">3.00</text>
<text x="20.5" y="57" font-size="12.8" fill="#ececff" textLength="25.5" lengthAdjust="spacingAndGlyphs">SELL</text>
<text x="188.5" y="57" font-size="12.8" fill="#ececff" textLength="23.5" lengthAdjust="spacingAndGlyphs">BUY</text>
<text x="28" y="93" font-size="12" font-weight="bold" fill="#fff" textLength="23.6" lengthAdjust="spacingAndGlyphs">0.72</text>
<text x="138" y="93" font-size="12" font-weight="bold" fill="#fff" textLength="23.6" lengthAdjust="spacingAndGlyphs">0.72</text>
<text x="55.5" y="93" font-size="35.5" fill="#fff" textLength="34.5" lengthAdjust="spacingAndGlyphs" stroke="#2020c8" stroke-width="0.7">92</text>
<text x="166" y="93" font-size="35.5" fill="#fff" textLength="35" lengthAdjust="spacingAndGlyphs" stroke="#2020c8" stroke-width="0.7">94</text>
<text x="95" y="77" font-size="12.6" font-weight="bold" fill="#fff" textLength="7.2" lengthAdjust="spacingAndGlyphs">8</text>
<text x="206" y="77" font-size="12.6" font-weight="bold" fill="#fff" textLength="7.2" lengthAdjust="spacingAndGlyphs">0</text>
<g class="tf">
<text x="-2" y="9" textLength="6" lengthAdjust="spacingAndGlyphs">5</text>
<text x="17" y="9" textLength="17" lengthAdjust="spacingAndGlyphs">M30</text>
<text x="48" y="9" textLength="11" lengthAdjust="spacingAndGlyphs">H1</text>
<text x="75" y="9" textLength="12" lengthAdjust="spacingAndGlyphs">H4</text>
<text x="104" y="9" textLength="11" lengthAdjust="spacingAndGlyphs">D1</text>
<text x="131" y="9" textLength="14" lengthAdjust="spacingAndGlyphs">W1</text>
<text x="158" y="9" textLength="15" lengthAdjust="spacingAndGlyphs">MN</text>
</g>
<g shape-rendering="crispEdges">
<rect x="0" y="679" width="1208" height="1" fill="#e3e3e3"/>
<rect x="0" y="680" width="1208" height="24" fill="#f0f0f0"/>
<rect x="0" y="680" width="1208" height="1" fill="#000"/>
<rect x="0" y="700" width="1208" height="1" fill="#fafafa"/>
<rect x="110" y="680" width="104" height="19" fill="#fff"/>
<rect x="110" y="680" width="1" height="19" fill="#000"/><rect x="213" y="680" width="1" height="19" fill="#000"/><rect x="110" y="698" width="104" height="1" fill="#000"/>
<rect x="0" y="681" width="1208" height="1" fill="#fbfbfb"/><rect x="0" y="681" width="1" height="19" fill="#a0a0a0"/><rect x="1" y="681" width="1" height="19" fill="#787878"/>
<rect x="303" y="683" width="1" height="14" fill="#808080"/>
<rect x="406" y="683" width="1" height="14" fill="#808080"/>
<rect x="510" y="683" width="1" height="14" fill="#808080"/>
<rect x="598" y="683" width="1" height="14" fill="#808080"/>
<rect x="666" y="683" width="1" height="14" fill="#808080"/>
<rect x="742" y="683" width="1" height="14" fill="#808080"/>
<rect x="834" y="683" width="1" height="14" fill="#808080"/>
<rect x="926" y="683" width="1" height="14" fill="#808080"/>
</g>
<g class="tb">
<text x="18" y="695" textLength="80" lengthAdjust="spacingAndGlyphs">EURUSD,Daily</text>
<text x="121" y="695" textLength="82" lengthAdjust="spacingAndGlyphs" fill="#000">AUDUSD,Daily</text>
<text x="224.5" y="695" textLength="66.5" lengthAdjust="spacingAndGlyphs">USDCHF,H4</text>
<text x="313.5" y="695" textLength="81" lengthAdjust="spacingAndGlyphs">USDCAD,Daily</text>
<text x="416.5" y="695" textLength="82.5" lengthAdjust="spacingAndGlyphs">USDCNH,Daily</text>
<text x="522.5" y="695" textLength="64" lengthAdjust="spacingAndGlyphs">UKOil,Daily</text>
<text x="608.5" y="695" textLength="46.5" lengthAdjust="spacingAndGlyphs">DJ30,H1</text>
<text x="678.5" y="695" textLength="52" lengthAdjust="spacingAndGlyphs">USDX,H1</text>
<text x="753" y="695" textLength="69.5" lengthAdjust="spacingAndGlyphs">XAUUSD,H4</text>
<text x="846" y="695" textLength="68" lengthAdjust="spacingAndGlyphs">GBPUSD,H1</text>
</g>
<path d="M1181 688.5 L1186 685 V692 Z" fill="#8c8c8c"/><path d="M1202 688.5 L1197 685 V692 Z" fill="#8c8c8c"/>
</svg></body></html>
